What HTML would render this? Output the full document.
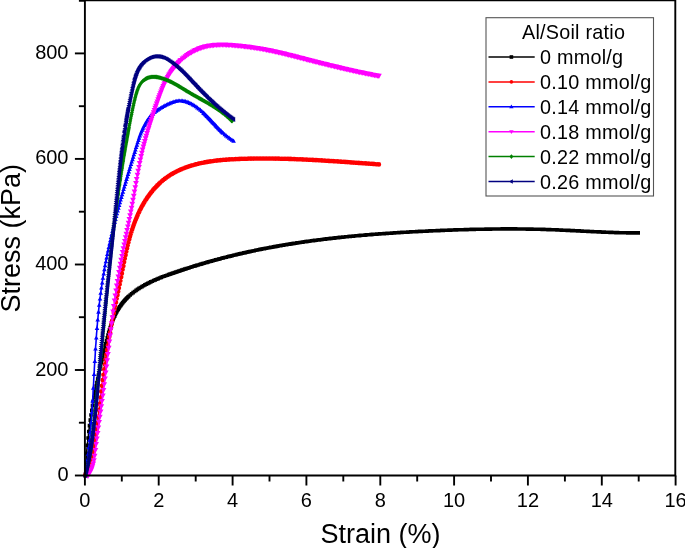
<!DOCTYPE html>
<html><head><meta charset="utf-8"><style>
html,body{margin:0;padding:0;background:#fff;}
svg{display:block;font-family:"Liberation Sans",sans-serif;will-change:transform;}
</style></head><body>
<svg width="685" height="548" viewBox="0 0 685 548">
<rect width="685" height="548" fill="#fff"/>
<g fill="none" stroke-width="3.6" stroke-linejoin="round" stroke-linecap="butt">
<polyline points="85.1,475.5 85.2,473.2 85.4,470.8 85.5,468.5 85.7,466.1 85.8,463.8 86.0,461.4 86.2,459.0 86.3,456.7 86.5,454.3 86.7,452.0 86.9,449.6 87.1,447.2 87.4,444.9 87.6,442.5 87.8,440.2 88.1,437.8 88.4,435.4 88.6,433.1 88.9,430.7 89.2,428.4 89.5,426.0 89.8,423.7 90.1,421.3 90.4,419.0 90.8,416.6 91.1,414.3 91.5,412.0 91.8,409.6 92.2,407.3 92.6,405.0 93.0,402.7 93.4,400.3 93.8,398.0 94.3,395.7 94.7,393.4 95.2,391.1 95.6,388.8 96.1,386.5 96.6,384.2 97.1,382.0 97.5,379.7 98.0,377.4 98.6,375.1 99.1,372.8 99.6,370.5 100.1,368.2 100.6,365.9 101.2,363.7 101.7,361.3 102.2,359.0 102.8,356.7 103.3,354.4 103.9,352.1 104.4,349.7 104.9,347.4 105.5,345.0 106.0,342.7 106.6,340.4 107.2,338.0 107.8,335.7 108.5,333.4 109.1,331.1 109.8,328.8 110.6,326.5 111.3,324.3 112.2,322.0 113.0,319.9 113.9,317.7 114.9,315.6 115.9,313.5 117.0,311.4 118.1,309.4 119.3,307.5 120.6,305.6 122.0,303.7 123.4,301.9 124.9,300.2 126.5,298.5 128.1,296.9 129.9,295.3 131.7,293.8 133.5,292.3 135.4,290.9 137.3,289.6 139.3,288.3 141.3,287.0 143.4,285.8 145.4,284.7 147.5,283.6 149.6,282.5 151.7,281.5 153.9,280.5 156.1,279.5 158.3,278.6 160.5,277.7 162.7,276.8 164.9,276.0 167.1,275.2 169.4,274.4 171.6,273.6 173.9,272.8 176.1,272.0 178.4,271.3 180.6,270.5 182.9,269.8 185.1,269.0 187.4,268.3 189.6,267.6 191.9,266.9 194.2,266.2 196.4,265.5 198.7,264.8 201.0,264.1 203.2,263.4 205.5,262.8 207.8,262.1 210.0,261.5 212.3,260.8 214.6,260.2 216.9,259.6 219.2,259.0 221.4,258.4 223.7,257.8 226.0,257.2 228.3,256.6 230.6,256.1 232.9,255.5 235.2,254.9 237.5,254.4 239.7,253.9 242.0,253.3 244.3,252.8 246.6,252.3 248.9,251.8 251.2,251.3 253.5,250.8 255.9,250.3 258.2,249.8 260.5,249.4 262.8,248.9 265.1,248.5 267.4,248.0 269.7,247.6 272.0,247.1 274.4,246.7 276.7,246.3 279.0,245.9 281.3,245.5 283.7,245.1 286.0,244.7 288.3,244.3 290.6,243.9 293.0,243.6 295.3,243.2 297.6,242.9 300.0,242.5 302.3,242.2 304.6,241.8 307.0,241.5 309.3,241.2 311.6,240.8 314.0,240.5 316.3,240.2 318.7,239.9 321.0,239.6 323.4,239.3 325.7,239.0 328.0,238.8 330.4,238.5 332.7,238.2 335.1,238.0 337.4,237.7 339.8,237.5 342.1,237.2 344.5,237.0 346.8,236.7 349.2,236.5 351.6,236.3 353.9,236.0 356.3,235.8 358.6,235.6 361.0,235.4 363.3,235.2 365.7,235.0 368.0,234.8 370.4,234.6 372.8,234.4 375.1,234.2 377.5,234.1 379.8,233.9 382.2,233.7 384.6,233.5 386.9,233.4 389.3,233.2 391.6,233.1 394.0,232.9 396.4,232.7 398.7,232.6 401.1,232.5 403.5,232.3 405.8,232.2 408.2,232.0 410.5,231.9 412.9,231.8 415.3,231.7 417.6,231.5 420.0,231.4 422.4,231.3 424.7,231.2 427.1,231.1 429.4,231.0 431.8,230.9 434.2,230.8 436.5,230.7 438.9,230.6 441.2,230.5 443.6,230.4 446.0,230.3 448.3,230.2 450.7,230.1 453.0,230.0 455.4,229.9 457.8,229.8 460.1,229.8 462.5,229.7 464.8,229.6 467.2,229.6 469.6,229.5 471.9,229.4 474.3,229.4 476.6,229.3 479.0,229.3 481.4,229.2 483.7,229.2 486.1,229.1 488.4,229.1 490.8,229.1 493.2,229.0 495.5,229.0 497.9,229.0 500.2,229.0 502.6,228.9 504.9,228.9 507.3,228.9 509.7,228.9 512.0,228.9 514.4,228.9 516.7,229.0 519.1,229.0 521.5,229.0 523.8,229.0 526.2,229.0 528.5,229.1 530.9,229.1 533.3,229.2 535.6,229.2 538.0,229.3 540.3,229.3 542.7,229.4 545.1,229.5 547.4,229.5 549.8,229.6 552.1,229.7 554.5,229.8 556.9,229.9 559.2,230.0 561.6,230.1 564.0,230.2 566.3,230.3 568.7,230.4 571.1,230.5 573.4,230.7 575.8,230.8 578.1,230.9 580.5,231.0 582.9,231.1 585.2,231.3 587.6,231.4 590.0,231.5 592.3,231.6 594.7,231.7 597.0,231.8 599.4,231.9 601.8,232.0 604.1,232.1 606.5,232.2 608.9,232.3 611.2,232.4 613.6,232.5 615.9,232.6 618.3,232.6 620.7,232.7 623.0,232.8 625.4,232.8 627.7,232.9 630.1,232.9 632.5,232.9 634.8,232.9 637.2,232.9 639.3,232.9" stroke="#000000" stroke-width="1.6"/>
<path d="M83.3,473.7h3.6v3.6h-3.6zM84.1,461.4h3.6v3.6h-3.6zM84.8,451.6h3.6v3.6h-3.6zM85.5,443.4h3.6v3.6h-3.6zM86.3,436.2h3.6v3.6h-3.6zM87.0,429.7h3.6v3.6h-3.6zM87.7,423.8h3.6v3.6h-3.6zM88.5,418.3h3.6v3.6h-3.6zM89.2,413.2h3.6v3.6h-3.6zM90.0,408.4h3.6v3.6h-3.6zM90.7,403.8h3.6v3.6h-3.6zM91.4,399.5h3.6v3.6h-3.6zM92.2,395.5h3.6v3.6h-3.6zM92.9,391.6h3.6v3.6h-3.6zM93.7,387.8h3.6v3.6h-3.6zM94.4,384.2h3.6v3.6h-3.6zM95.1,380.7h3.6v3.6h-3.6zM95.9,377.3h3.6v3.6h-3.6zM96.6,374.0h3.6v3.6h-3.6zM97.3,370.7h3.6v3.6h-3.6zM98.1,367.4h3.6v3.6h-3.6zM98.8,364.2h3.6v3.6h-3.6zM99.6,361.0h3.6v3.6h-3.6zM100.3,357.8h3.6v3.6h-3.6zM101.0,354.6h3.6v3.6h-3.6zM101.8,351.5h3.6v3.6h-3.6zM102.5,348.3h3.6v3.6h-3.6zM103.3,345.1h3.6v3.6h-3.6zM104.0,342.0h3.6v3.6h-3.6zM104.7,338.9h3.6v3.6h-3.6zM105.5,336.0h3.6v3.6h-3.6zM106.2,333.2h3.6v3.6h-3.6zM106.9,330.6h3.6v3.6h-3.6zM107.7,328.1h3.6v3.6h-3.6zM108.4,325.8h3.6v3.6h-3.6zM109.2,323.6h3.6v3.6h-3.6zM109.9,321.5h3.6v3.6h-3.6zM110.6,319.5h3.6v3.6h-3.6zM111.4,317.7h3.6v3.6h-3.6zM112.1,315.9h3.6v3.6h-3.6zM112.9,314.3h3.6v3.6h-3.6zM113.6,312.7h3.6v3.6h-3.6zM114.3,311.2h3.6v3.6h-3.6zM115.1,309.9h3.6v3.6h-3.6zM115.8,308.5h3.6v3.6h-3.6zM116.5,307.3h3.6v3.6h-3.6zM117.3,306.1h3.6v3.6h-3.6zM118.0,304.9h3.6v3.6h-3.6zM118.8,303.8h3.6v3.6h-3.6zM119.5,302.8h3.6v3.6h-3.6zM120.2,301.8h3.6v3.6h-3.6zM121.0,300.9h3.6v3.6h-3.6zM121.7,300.0h3.6v3.6h-3.6zM122.5,299.1h3.6v3.6h-3.6zM123.2,298.3h3.6v3.6h-3.6zM123.9,297.5h3.6v3.6h-3.6zM124.7,296.7h3.6v3.6h-3.6zM125.4,296.0h3.6v3.6h-3.6zM126.1,295.2h3.6v3.6h-3.6zM126.9,294.6h3.6v3.6h-3.6zM128.4,293.2h3.6v3.6h-3.6zM129.8,292.0h3.6v3.6h-3.6zM131.3,290.8h3.6v3.6h-3.6zM132.8,289.7h3.6v3.6h-3.6zM134.3,288.6h3.6v3.6h-3.6zM135.7,287.6h3.6v3.6h-3.6zM137.2,286.6h3.6v3.6h-3.6zM138.7,285.7h3.6v3.6h-3.6zM140.2,284.8h3.6v3.6h-3.6zM141.7,284.0h3.6v3.6h-3.6zM143.1,283.1h3.6v3.6h-3.6zM144.6,282.3h3.6v3.6h-3.6zM146.1,281.6h3.6v3.6h-3.6zM147.6,280.8h3.6v3.6h-3.6zM149.0,280.1h3.6v3.6h-3.6zM150.5,279.4h3.6v3.6h-3.6zM152.0,278.7h3.6v3.6h-3.6zM153.5,278.1h3.6v3.6h-3.6zM154.9,277.4h3.6v3.6h-3.6zM156.4,276.8h3.6v3.6h-3.6zM157.9,276.2h3.6v3.6h-3.6zM159.4,275.6h3.6v3.6h-3.6zM160.8,275.0h3.6v3.6h-3.6zM162.3,274.5h3.6v3.6h-3.6zM163.8,273.9h3.6v3.6h-3.6zM165.3,273.4h3.6v3.6h-3.6zM166.8,272.8h3.6v3.6h-3.6zM168.2,272.3h3.6v3.6h-3.6zM169.7,271.8h3.6v3.6h-3.6zM171.2,271.3h3.6v3.6h-3.6zM172.7,270.8h3.6v3.6h-3.6zM174.1,270.3h3.6v3.6h-3.6zM175.6,269.8h3.6v3.6h-3.6zM177.1,269.3h3.6v3.6h-3.6zM178.6,268.8h3.6v3.6h-3.6zM180.0,268.3h3.6v3.6h-3.6zM181.5,267.8h3.6v3.6h-3.6zM183.0,267.3h3.6v3.6h-3.6zM184.5,266.8h3.6v3.6h-3.6zM186.0,266.4h3.6v3.6h-3.6zM187.4,265.9h3.6v3.6h-3.6zM188.9,265.4h3.6v3.6h-3.6zM190.4,265.0h3.6v3.6h-3.6zM191.9,264.5h3.6v3.6h-3.6zM193.3,264.1h3.6v3.6h-3.6zM194.8,263.6h3.6v3.6h-3.6zM196.3,263.2h3.6v3.6h-3.6zM197.8,262.7h3.6v3.6h-3.6zM199.2,262.3h3.6v3.6h-3.6zM200.7,261.8h3.6v3.6h-3.6zM202.2,261.4h3.6v3.6h-3.6zM203.7,261.0h3.6v3.6h-3.6zM205.2,260.6h3.6v3.6h-3.6zM206.6,260.1h3.6v3.6h-3.6zM208.1,259.7h3.6v3.6h-3.6zM209.6,259.3h3.6v3.6h-3.6zM211.1,258.9h3.6v3.6h-3.6zM212.5,258.5h3.6v3.6h-3.6zM214.0,258.1h3.6v3.6h-3.6zM215.5,257.7h3.6v3.6h-3.6zM217.0,257.3h3.6v3.6h-3.6zM218.4,256.9h3.6v3.6h-3.6zM219.9,256.5h3.6v3.6h-3.6zM221.4,256.1h3.6v3.6h-3.6zM222.9,255.7h3.6v3.6h-3.6zM224.4,255.4h3.6v3.6h-3.6zM225.8,255.0h3.6v3.6h-3.6zM227.3,254.6h3.6v3.6h-3.6zM228.8,254.3h3.6v3.6h-3.6zM230.3,253.9h3.6v3.6h-3.6zM231.7,253.5h3.6v3.6h-3.6zM233.2,253.2h3.6v3.6h-3.6zM234.7,252.8h3.6v3.6h-3.6zM236.2,252.5h3.6v3.6h-3.6zM237.6,252.1h3.6v3.6h-3.6zM239.1,251.8h3.6v3.6h-3.6zM240.6,251.4h3.6v3.6h-3.6zM242.1,251.1h3.6v3.6h-3.6zM243.6,250.8h3.6v3.6h-3.6zM245.0,250.4h3.6v3.6h-3.6zM246.5,250.1h3.6v3.6h-3.6zM248.0,249.8h3.6v3.6h-3.6zM249.5,249.5h3.6v3.6h-3.6zM250.9,249.2h3.6v3.6h-3.6zM252.4,248.9h3.6v3.6h-3.6zM253.9,248.5h3.6v3.6h-3.6zM255.4,248.2h3.6v3.6h-3.6zM256.8,247.9h3.6v3.6h-3.6zM258.3,247.6h3.6v3.6h-3.6zM259.8,247.3h3.6v3.6h-3.6zM261.3,247.0h3.6v3.6h-3.6zM262.7,246.8h3.6v3.6h-3.6zM264.2,246.5h3.6v3.6h-3.6zM265.7,246.2h3.6v3.6h-3.6zM267.2,245.9h3.6v3.6h-3.6zM268.7,245.6h3.6v3.6h-3.6zM270.1,245.4h3.6v3.6h-3.6zM271.6,245.1h3.6v3.6h-3.6zM273.1,244.8h3.6v3.6h-3.6zM274.6,244.6h3.6v3.6h-3.6zM276.0,244.3h3.6v3.6h-3.6zM277.5,244.0h3.6v3.6h-3.6zM279.0,243.8h3.6v3.6h-3.6zM280.5,243.5h3.6v3.6h-3.6zM281.9,243.3h3.6v3.6h-3.6zM283.4,243.0h3.6v3.6h-3.6zM284.9,242.8h3.6v3.6h-3.6zM286.4,242.5h3.6v3.6h-3.6zM287.9,242.3h3.6v3.6h-3.6zM289.3,242.1h3.6v3.6h-3.6zM290.8,241.8h3.6v3.6h-3.6zM292.3,241.6h3.6v3.6h-3.6zM293.8,241.4h3.6v3.6h-3.6zM295.2,241.1h3.6v3.6h-3.6zM296.7,240.9h3.6v3.6h-3.6zM298.2,240.7h3.6v3.6h-3.6zM299.7,240.5h3.6v3.6h-3.6zM301.1,240.3h3.6v3.6h-3.6zM302.6,240.0h3.6v3.6h-3.6zM304.1,239.8h3.6v3.6h-3.6zM305.6,239.6h3.6v3.6h-3.6zM307.1,239.4h3.6v3.6h-3.6zM308.5,239.2h3.6v3.6h-3.6zM310.0,239.0h3.6v3.6h-3.6zM311.5,238.8h3.6v3.6h-3.6zM313.0,238.6h3.6v3.6h-3.6zM314.4,238.4h3.6v3.6h-3.6zM315.9,238.2h3.6v3.6h-3.6zM317.4,238.1h3.6v3.6h-3.6zM318.9,237.9h3.6v3.6h-3.6zM320.3,237.7h3.6v3.6h-3.6zM321.8,237.5h3.6v3.6h-3.6zM323.3,237.3h3.6v3.6h-3.6zM324.8,237.1h3.6v3.6h-3.6zM326.3,237.0h3.6v3.6h-3.6zM327.7,236.8h3.6v3.6h-3.6zM329.2,236.6h3.6v3.6h-3.6zM330.7,236.5h3.6v3.6h-3.6zM332.2,236.3h3.6v3.6h-3.6zM333.6,236.1h3.6v3.6h-3.6zM335.1,236.0h3.6v3.6h-3.6zM336.6,235.8h3.6v3.6h-3.6zM338.1,235.6h3.6v3.6h-3.6zM339.5,235.5h3.6v3.6h-3.6zM341.0,235.3h3.6v3.6h-3.6zM342.5,235.2h3.6v3.6h-3.6zM344.0,235.0h3.6v3.6h-3.6zM345.4,234.9h3.6v3.6h-3.6zM346.9,234.7h3.6v3.6h-3.6zM348.4,234.6h3.6v3.6h-3.6zM349.9,234.5h3.6v3.6h-3.6zM351.4,234.3h3.6v3.6h-3.6zM352.8,234.2h3.6v3.6h-3.6zM354.3,234.0h3.6v3.6h-3.6zM355.8,233.9h3.6v3.6h-3.6zM357.3,233.8h3.6v3.6h-3.6zM358.7,233.6h3.6v3.6h-3.6zM360.2,233.5h3.6v3.6h-3.6zM361.7,233.4h3.6v3.6h-3.6zM363.2,233.3h3.6v3.6h-3.6zM364.6,233.1h3.6v3.6h-3.6zM366.1,233.0h3.6v3.6h-3.6zM367.6,232.9h3.6v3.6h-3.6zM369.1,232.8h3.6v3.6h-3.6zM370.6,232.6h3.6v3.6h-3.6zM372.0,232.5h3.6v3.6h-3.6zM373.5,232.4h3.6v3.6h-3.6zM375.0,232.3h3.6v3.6h-3.6zM376.5,232.2h3.6v3.6h-3.6zM377.9,232.1h3.6v3.6h-3.6zM379.4,232.0h3.6v3.6h-3.6zM380.9,231.9h3.6v3.6h-3.6zM382.4,231.8h3.6v3.6h-3.6zM383.8,231.7h3.6v3.6h-3.6zM385.3,231.6h3.6v3.6h-3.6zM386.8,231.5h3.6v3.6h-3.6zM388.3,231.4h3.6v3.6h-3.6zM389.8,231.3h3.6v3.6h-3.6zM391.2,231.2h3.6v3.6h-3.6zM392.7,231.1h3.6v3.6h-3.6zM394.2,231.0h3.6v3.6h-3.6zM395.7,230.9h3.6v3.6h-3.6zM397.1,230.8h3.6v3.6h-3.6zM398.6,230.7h3.6v3.6h-3.6zM400.1,230.6h3.6v3.6h-3.6zM401.6,230.5h3.6v3.6h-3.6zM403.0,230.4h3.6v3.6h-3.6zM404.5,230.4h3.6v3.6h-3.6zM406.0,230.3h3.6v3.6h-3.6zM407.5,230.2h3.6v3.6h-3.6zM409.0,230.1h3.6v3.6h-3.6zM410.4,230.0h3.6v3.6h-3.6zM411.9,229.9h3.6v3.6h-3.6zM413.4,229.9h3.6v3.6h-3.6zM414.9,229.8h3.6v3.6h-3.6zM416.3,229.7h3.6v3.6h-3.6zM417.8,229.6h3.6v3.6h-3.6zM419.3,229.6h3.6v3.6h-3.6zM420.8,229.5h3.6v3.6h-3.6zM422.2,229.4h3.6v3.6h-3.6zM423.7,229.4h3.6v3.6h-3.6zM425.2,229.3h3.6v3.6h-3.6zM426.7,229.2h3.6v3.6h-3.6zM428.2,229.1h3.6v3.6h-3.6zM429.6,229.1h3.6v3.6h-3.6zM431.1,229.0h3.6v3.6h-3.6zM432.6,228.9h3.6v3.6h-3.6zM434.1,228.9h3.6v3.6h-3.6zM435.5,228.8h3.6v3.6h-3.6zM437.0,228.8h3.6v3.6h-3.6zM438.5,228.7h3.6v3.6h-3.6zM440.0,228.6h3.6v3.6h-3.6zM441.4,228.6h3.6v3.6h-3.6zM442.9,228.5h3.6v3.6h-3.6zM444.4,228.5h3.6v3.6h-3.6zM445.9,228.4h3.6v3.6h-3.6zM447.3,228.3h3.6v3.6h-3.6zM448.8,228.3h3.6v3.6h-3.6zM450.3,228.2h3.6v3.6h-3.6zM451.8,228.2h3.6v3.6h-3.6zM453.3,228.1h3.6v3.6h-3.6zM454.7,228.1h3.6v3.6h-3.6zM456.2,228.0h3.6v3.6h-3.6zM457.7,228.0h3.6v3.6h-3.6zM459.2,227.9h3.6v3.6h-3.6zM460.6,227.9h3.6v3.6h-3.6zM462.1,227.9h3.6v3.6h-3.6zM463.6,227.8h3.6v3.6h-3.6zM465.1,227.8h3.6v3.6h-3.6zM466.5,227.7h3.6v3.6h-3.6zM468.0,227.7h3.6v3.6h-3.6zM469.5,227.6h3.6v3.6h-3.6zM471.0,227.6h3.6v3.6h-3.6zM472.5,227.6h3.6v3.6h-3.6zM473.9,227.5h3.6v3.6h-3.6zM475.4,227.5h3.6v3.6h-3.6zM476.9,227.5h3.6v3.6h-3.6zM478.4,227.4h3.6v3.6h-3.6zM479.8,227.4h3.6v3.6h-3.6zM481.3,227.4h3.6v3.6h-3.6zM482.8,227.4h3.6v3.6h-3.6zM484.3,227.3h3.6v3.6h-3.6zM485.7,227.3h3.6v3.6h-3.6zM487.2,227.3h3.6v3.6h-3.6zM488.7,227.3h3.6v3.6h-3.6zM490.2,227.2h3.6v3.6h-3.6zM491.7,227.2h3.6v3.6h-3.6zM493.1,227.2h3.6v3.6h-3.6zM494.6,227.2h3.6v3.6h-3.6zM496.1,227.2h3.6v3.6h-3.6zM497.6,227.2h3.6v3.6h-3.6zM499.0,227.2h3.6v3.6h-3.6zM500.5,227.1h3.6v3.6h-3.6zM502.0,227.1h3.6v3.6h-3.6zM503.5,227.1h3.6v3.6h-3.6zM504.9,227.1h3.6v3.6h-3.6zM506.4,227.1h3.6v3.6h-3.6zM507.9,227.1h3.6v3.6h-3.6zM509.4,227.1h3.6v3.6h-3.6zM510.9,227.1h3.6v3.6h-3.6zM512.3,227.1h3.6v3.6h-3.6zM513.8,227.1h3.6v3.6h-3.6zM515.3,227.2h3.6v3.6h-3.6zM516.8,227.2h3.6v3.6h-3.6zM518.2,227.2h3.6v3.6h-3.6zM519.7,227.2h3.6v3.6h-3.6zM521.2,227.2h3.6v3.6h-3.6zM522.7,227.2h3.6v3.6h-3.6zM524.1,227.2h3.6v3.6h-3.6zM525.6,227.3h3.6v3.6h-3.6zM527.1,227.3h3.6v3.6h-3.6zM528.6,227.3h3.6v3.6h-3.6zM530.0,227.3h3.6v3.6h-3.6zM531.5,227.4h3.6v3.6h-3.6zM533.0,227.4h3.6v3.6h-3.6zM534.5,227.4h3.6v3.6h-3.6zM536.0,227.5h3.6v3.6h-3.6zM537.4,227.5h3.6v3.6h-3.6zM538.9,227.5h3.6v3.6h-3.6zM540.4,227.6h3.6v3.6h-3.6zM541.9,227.6h3.6v3.6h-3.6zM543.3,227.7h3.6v3.6h-3.6zM544.8,227.7h3.6v3.6h-3.6zM546.3,227.8h3.6v3.6h-3.6zM547.8,227.8h3.6v3.6h-3.6zM549.2,227.9h3.6v3.6h-3.6zM550.7,227.9h3.6v3.6h-3.6zM552.2,228.0h3.6v3.6h-3.6zM553.7,228.0h3.6v3.6h-3.6zM555.2,228.1h3.6v3.6h-3.6zM556.6,228.2h3.6v3.6h-3.6zM558.1,228.2h3.6v3.6h-3.6zM559.6,228.3h3.6v3.6h-3.6zM561.1,228.4h3.6v3.6h-3.6zM562.5,228.4h3.6v3.6h-3.6zM564.0,228.5h3.6v3.6h-3.6zM565.5,228.6h3.6v3.6h-3.6zM567.0,228.6h3.6v3.6h-3.6zM568.4,228.7h3.6v3.6h-3.6zM569.9,228.8h3.6v3.6h-3.6zM571.4,228.8h3.6v3.6h-3.6zM572.9,228.9h3.6v3.6h-3.6zM574.4,229.0h3.6v3.6h-3.6zM575.8,229.1h3.6v3.6h-3.6zM577.3,229.1h3.6v3.6h-3.6zM578.8,229.2h3.6v3.6h-3.6zM580.3,229.3h3.6v3.6h-3.6zM581.7,229.4h3.6v3.6h-3.6zM583.2,229.4h3.6v3.6h-3.6zM584.7,229.5h3.6v3.6h-3.6zM586.2,229.6h3.6v3.6h-3.6zM587.6,229.7h3.6v3.6h-3.6zM589.1,229.7h3.6v3.6h-3.6zM590.6,229.8h3.6v3.6h-3.6zM592.1,229.9h3.6v3.6h-3.6zM593.6,229.9h3.6v3.6h-3.6zM595.0,230.0h3.6v3.6h-3.6zM596.5,230.1h3.6v3.6h-3.6zM598.0,230.1h3.6v3.6h-3.6zM599.5,230.2h3.6v3.6h-3.6zM600.9,230.3h3.6v3.6h-3.6zM602.4,230.3h3.6v3.6h-3.6zM603.9,230.4h3.6v3.6h-3.6zM605.4,230.5h3.6v3.6h-3.6zM606.8,230.5h3.6v3.6h-3.6zM608.3,230.6h3.6v3.6h-3.6zM609.8,230.6h3.6v3.6h-3.6zM611.3,230.7h3.6v3.6h-3.6zM612.8,230.7h3.6v3.6h-3.6zM614.2,230.8h3.6v3.6h-3.6zM615.7,230.8h3.6v3.6h-3.6zM617.2,230.9h3.6v3.6h-3.6zM618.7,230.9h3.6v3.6h-3.6zM620.1,230.9h3.6v3.6h-3.6zM621.6,231.0h3.6v3.6h-3.6zM623.1,231.0h3.6v3.6h-3.6zM624.6,231.0h3.6v3.6h-3.6zM626.0,231.1h3.6v3.6h-3.6zM627.5,231.1h3.6v3.6h-3.6zM629.0,231.1h3.6v3.6h-3.6zM630.5,231.1h3.6v3.6h-3.6zM631.9,231.1h3.6v3.6h-3.6zM633.4,231.1h3.6v3.6h-3.6zM634.9,231.1h3.6v3.6h-3.6zM636.4,231.1h3.6v3.6h-3.6z" fill="#000000"/>
<polyline points="85.0,475.5 85.7,473.9 86.4,472.2 87.1,470.6 87.7,468.9 88.4,467.2 89.0,465.6 89.5,463.9 90.1,462.2 90.6,460.5 91.1,458.8 91.5,457.1 92.0,455.4 92.4,453.7 92.8,452.0 93.2,450.3 93.6,448.5 94.0,446.8 94.3,445.1 94.6,443.4 94.9,441.6 95.2,439.9 95.5,438.1 95.8,436.4 96.0,434.6 96.3,432.9 96.5,431.1 96.8,429.4 97.0,427.6 97.2,425.9 97.4,424.1 97.6,422.3 97.8,420.6 98.0,418.8 98.2,417.1 98.4,415.3 98.6,413.5 98.8,411.8 99.0,410.0 99.2,408.3 99.4,406.5 99.6,404.7 99.8,403.0 100.0,401.2 100.2,399.5 100.5,397.7 100.7,395.9 100.9,394.2 101.1,392.4 101.3,390.7 101.5,388.9 101.8,387.1 102.0,385.4 102.2,383.6 102.5,381.9 102.7,380.1 102.9,378.4 103.2,376.6 103.4,374.9 103.7,373.1 103.9,371.4 104.1,369.6 104.4,367.8 104.7,366.1 104.9,364.3 105.2,362.6 105.4,360.8 105.7,359.1 106.0,357.3 106.2,355.6 106.5,353.8 106.8,352.1 107.1,350.3 107.3,348.6 107.6,346.9 107.9,345.1 108.2,343.4 108.5,341.6 108.8,339.9 109.1,338.1 109.4,336.4 109.7,334.6 110.0,332.9 110.3,331.1 110.6,329.4 111.0,327.7 111.3,325.9 111.6,324.2 111.9,322.4 112.3,320.7 112.6,319.0 113.0,317.2 113.3,315.5 113.6,313.7 114.0,312.0 114.3,310.3 114.7,308.5 115.0,306.8 115.4,305.1 115.8,303.3 116.1,301.6 116.5,299.8 116.8,298.1 117.2,296.4 117.5,294.6 117.9,292.9 118.3,291.2 118.6,289.5 119.0,287.7 119.3,286.0 119.7,284.3 120.0,282.5 120.4,280.8 120.7,279.1 121.1,277.3 121.4,275.6 121.8,273.9 122.1,272.2 122.5,270.4 122.8,268.7 123.1,267.0 123.5,265.3 123.8,263.5 124.2,261.8 124.5,260.1 124.9,258.4 125.2,256.6 125.6,254.9 125.9,253.2 126.3,251.5 126.7,249.8 127.1,248.0 127.5,246.3 127.9,244.6 128.3,242.9 128.8,241.2 129.2,239.5 129.7,237.8 130.2,236.0 130.7,234.3 131.2,232.6 131.7,230.9 132.3,229.2 132.8,227.5 133.4,225.8 134.0,224.1 134.6,222.5 135.3,220.8 136.0,219.1 136.6,217.5 137.4,215.8 138.1,214.2 138.8,212.5 139.6,210.9 140.4,209.3 141.3,207.7 142.1,206.1 143.0,204.6 143.9,203.0 144.8,201.5 145.8,199.9 146.8,198.4 147.8,196.9 148.9,195.5 149.9,194.0 151.0,192.6 152.1,191.2 153.3,189.8 154.5,188.5 155.6,187.2 156.9,185.9 158.1,184.7 159.4,183.4 160.7,182.3 162.0,181.1 163.3,180.0 164.7,178.9 166.0,177.9 167.4,176.9 168.9,175.9 170.3,175.0 171.8,174.1 173.2,173.3 174.7,172.4 176.2,171.6 177.8,170.9 179.3,170.1 180.9,169.4 182.5,168.8 184.1,168.1 185.7,167.5 187.3,166.9 188.9,166.4 190.6,165.8 192.3,165.3 193.9,164.9 195.6,164.4 197.3,164.0 199.0,163.6 200.8,163.2 202.5,162.8 204.2,162.5 206.0,162.1 207.7,161.8 209.5,161.5 211.3,161.3 213.0,161.0 214.8,160.8 216.6,160.6 218.4,160.4 220.2,160.2 222.0,160.0 223.8,159.8 225.6,159.7 227.4,159.6 229.2,159.4 231.0,159.3 232.8,159.2 234.7,159.1 236.5,159.0 238.3,159.0 240.1,158.9 241.9,158.8 243.7,158.8 245.5,158.7 247.3,158.7 249.1,158.6 250.9,158.6 252.7,158.6 254.5,158.5 256.2,158.5 258.0,158.5 259.8,158.5 261.6,158.5 263.4,158.5 265.1,158.5 266.9,158.5 268.7,158.5 270.4,158.5 272.2,158.5 274.0,158.6 275.7,158.6 277.5,158.6 279.2,158.6 281.0,158.7 282.7,158.7 284.5,158.8 286.3,158.8 288.0,158.9 289.8,158.9 291.5,159.0 293.3,159.0 295.0,159.1 296.8,159.2 298.5,159.2 300.2,159.3 302.0,159.4 303.7,159.5 305.5,159.6 307.2,159.6 309.0,159.7 310.7,159.8 312.5,159.9 314.2,160.0 316.0,160.1 317.7,160.2 319.5,160.3 321.2,160.4 323.0,160.5 324.7,160.6 326.5,160.7 328.2,160.8 330.0,160.9 331.7,161.1 333.5,161.2 335.2,161.3 337.0,161.4 338.8,161.5 340.5,161.6 342.3,161.8 344.1,161.9 345.8,162.0 347.6,162.1 349.4,162.3 351.1,162.4 352.9,162.5 354.7,162.6 356.5,162.8 358.3,162.9 360.1,163.0 361.8,163.1 363.6,163.3 365.4,163.4 367.2,163.5 369.0,163.7 370.8,163.8 372.6,163.9 374.4,164.0 376.3,164.2 378.1,164.3 379.7,164.4" stroke="#ff0000" stroke-width="1.6"/>
<path d="M82.7,475.5a2.30,2.30 0 1,0 4.6,0a2.30,2.30 0 1,0 -4.6,0M83.4,473.9a2.30,2.30 0 1,0 4.6,0a2.30,2.30 0 1,0 -4.6,0M84.1,472.2a2.30,2.30 0 1,0 4.6,0a2.30,2.30 0 1,0 -4.6,0M84.9,470.3a2.30,2.30 0 1,0 4.6,0a2.30,2.30 0 1,0 -4.6,0M85.6,468.4a2.30,2.30 0 1,0 4.6,0a2.30,2.30 0 1,0 -4.6,0M86.4,466.4a2.30,2.30 0 1,0 4.6,0a2.30,2.30 0 1,0 -4.6,0M87.1,464.3a2.30,2.30 0 1,0 4.6,0a2.30,2.30 0 1,0 -4.6,0M87.8,462.0a2.30,2.30 0 1,0 4.6,0a2.30,2.30 0 1,0 -4.6,0M88.6,459.5a2.30,2.30 0 1,0 4.6,0a2.30,2.30 0 1,0 -4.6,0M89.3,456.9a2.30,2.30 0 1,0 4.6,0a2.30,2.30 0 1,0 -4.6,0M90.1,454.0a2.30,2.30 0 1,0 4.6,0a2.30,2.30 0 1,0 -4.6,0M90.8,450.9a2.30,2.30 0 1,0 4.6,0a2.30,2.30 0 1,0 -4.6,0M91.5,447.4a2.30,2.30 0 1,0 4.6,0a2.30,2.30 0 1,0 -4.6,0M92.3,443.6a2.30,2.30 0 1,0 4.6,0a2.30,2.30 0 1,0 -4.6,0M93.0,439.3a2.30,2.30 0 1,0 4.6,0a2.30,2.30 0 1,0 -4.6,0M93.7,434.5a2.30,2.30 0 1,0 4.6,0a2.30,2.30 0 1,0 -4.6,0M94.5,429.1a2.30,2.30 0 1,0 4.6,0a2.30,2.30 0 1,0 -4.6,0M95.2,423.1a2.30,2.30 0 1,0 4.6,0a2.30,2.30 0 1,0 -4.6,0M96.0,416.7a2.30,2.30 0 1,0 4.6,0a2.30,2.30 0 1,0 -4.6,0M96.7,410.1a2.30,2.30 0 1,0 4.6,0a2.30,2.30 0 1,0 -4.6,0M97.4,403.7a2.30,2.30 0 1,0 4.6,0a2.30,2.30 0 1,0 -4.6,0M98.2,397.5a2.30,2.30 0 1,0 4.6,0a2.30,2.30 0 1,0 -4.6,0M98.9,391.5a2.30,2.30 0 1,0 4.6,0a2.30,2.30 0 1,0 -4.6,0M99.7,385.7a2.30,2.30 0 1,0 4.6,0a2.30,2.30 0 1,0 -4.6,0M100.4,380.1a2.30,2.30 0 1,0 4.6,0a2.30,2.30 0 1,0 -4.6,0M101.1,374.7a2.30,2.30 0 1,0 4.6,0a2.30,2.30 0 1,0 -4.6,0M101.9,369.4a2.30,2.30 0 1,0 4.6,0a2.30,2.30 0 1,0 -4.6,0M102.6,364.4a2.30,2.30 0 1,0 4.6,0a2.30,2.30 0 1,0 -4.6,0M103.3,359.4a2.30,2.30 0 1,0 4.6,0a2.30,2.30 0 1,0 -4.6,0M104.1,354.6a2.30,2.30 0 1,0 4.6,0a2.30,2.30 0 1,0 -4.6,0M104.8,350.0a2.30,2.30 0 1,0 4.6,0a2.30,2.30 0 1,0 -4.6,0M105.6,345.4a2.30,2.30 0 1,0 4.6,0a2.30,2.30 0 1,0 -4.6,0M106.3,341.0a2.30,2.30 0 1,0 4.6,0a2.30,2.30 0 1,0 -4.6,0M107.0,336.7a2.30,2.30 0 1,0 4.6,0a2.30,2.30 0 1,0 -4.6,0M107.8,332.6a2.30,2.30 0 1,0 4.6,0a2.30,2.30 0 1,0 -4.6,0M108.5,328.5a2.30,2.30 0 1,0 4.6,0a2.30,2.30 0 1,0 -4.6,0M109.3,324.5a2.30,2.30 0 1,0 4.6,0a2.30,2.30 0 1,0 -4.6,0M110.0,320.6a2.30,2.30 0 1,0 4.6,0a2.30,2.30 0 1,0 -4.6,0M110.7,316.8a2.30,2.30 0 1,0 4.6,0a2.30,2.30 0 1,0 -4.6,0M111.5,313.1a2.30,2.30 0 1,0 4.6,0a2.30,2.30 0 1,0 -4.6,0M112.2,309.4a2.30,2.30 0 1,0 4.6,0a2.30,2.30 0 1,0 -4.6,0M112.9,305.8a2.30,2.30 0 1,0 4.6,0a2.30,2.30 0 1,0 -4.6,0M113.7,302.2a2.30,2.30 0 1,0 4.6,0a2.30,2.30 0 1,0 -4.6,0M114.4,298.6a2.30,2.30 0 1,0 4.6,0a2.30,2.30 0 1,0 -4.6,0M115.2,295.1a2.30,2.30 0 1,0 4.6,0a2.30,2.30 0 1,0 -4.6,0M115.9,291.5a2.30,2.30 0 1,0 4.6,0a2.30,2.30 0 1,0 -4.6,0M116.6,287.9a2.30,2.30 0 1,0 4.6,0a2.30,2.30 0 1,0 -4.6,0M117.4,284.3a2.30,2.30 0 1,0 4.6,0a2.30,2.30 0 1,0 -4.6,0M118.1,280.7a2.30,2.30 0 1,0 4.6,0a2.30,2.30 0 1,0 -4.6,0M118.9,277.1a2.30,2.30 0 1,0 4.6,0a2.30,2.30 0 1,0 -4.6,0M119.6,273.4a2.30,2.30 0 1,0 4.6,0a2.30,2.30 0 1,0 -4.6,0M120.3,269.6a2.30,2.30 0 1,0 4.6,0a2.30,2.30 0 1,0 -4.6,0M121.1,265.9a2.30,2.30 0 1,0 4.6,0a2.30,2.30 0 1,0 -4.6,0M121.8,262.1a2.30,2.30 0 1,0 4.6,0a2.30,2.30 0 1,0 -4.6,0M122.5,258.5a2.30,2.30 0 1,0 4.6,0a2.30,2.30 0 1,0 -4.6,0M123.3,254.9a2.30,2.30 0 1,0 4.6,0a2.30,2.30 0 1,0 -4.6,0M124.0,251.5a2.30,2.30 0 1,0 4.6,0a2.30,2.30 0 1,0 -4.6,0M124.8,248.2a2.30,2.30 0 1,0 4.6,0a2.30,2.30 0 1,0 -4.6,0M125.5,245.1a2.30,2.30 0 1,0 4.6,0a2.30,2.30 0 1,0 -4.6,0M126.2,242.2a2.30,2.30 0 1,0 4.6,0a2.30,2.30 0 1,0 -4.6,0M127.0,239.3a2.30,2.30 0 1,0 4.6,0a2.30,2.30 0 1,0 -4.6,0M127.7,236.6a2.30,2.30 0 1,0 4.6,0a2.30,2.30 0 1,0 -4.6,0M128.4,234.1a2.30,2.30 0 1,0 4.6,0a2.30,2.30 0 1,0 -4.6,0M129.2,231.7a2.30,2.30 0 1,0 4.6,0a2.30,2.30 0 1,0 -4.6,0M129.9,229.4a2.30,2.30 0 1,0 4.6,0a2.30,2.30 0 1,0 -4.6,0M130.7,227.1a2.30,2.30 0 1,0 4.6,0a2.30,2.30 0 1,0 -4.6,0M131.4,225.0a2.30,2.30 0 1,0 4.6,0a2.30,2.30 0 1,0 -4.6,0M132.1,223.0a2.30,2.30 0 1,0 4.6,0a2.30,2.30 0 1,0 -4.6,0M132.9,221.1a2.30,2.30 0 1,0 4.6,0a2.30,2.30 0 1,0 -4.6,0M133.6,219.2a2.30,2.30 0 1,0 4.6,0a2.30,2.30 0 1,0 -4.6,0M134.4,217.4a2.30,2.30 0 1,0 4.6,0a2.30,2.30 0 1,0 -4.6,0M135.1,215.7a2.30,2.30 0 1,0 4.6,0a2.30,2.30 0 1,0 -4.6,0M135.8,214.1a2.30,2.30 0 1,0 4.6,0a2.30,2.30 0 1,0 -4.6,0M136.6,212.5a2.30,2.30 0 1,0 4.6,0a2.30,2.30 0 1,0 -4.6,0M137.3,210.9a2.30,2.30 0 1,0 4.6,0a2.30,2.30 0 1,0 -4.6,0M138.0,209.5a2.30,2.30 0 1,0 4.6,0a2.30,2.30 0 1,0 -4.6,0M138.8,208.0a2.30,2.30 0 1,0 4.6,0a2.30,2.30 0 1,0 -4.6,0M139.5,206.6a2.30,2.30 0 1,0 4.6,0a2.30,2.30 0 1,0 -4.6,0M140.3,205.3a2.30,2.30 0 1,0 4.6,0a2.30,2.30 0 1,0 -4.6,0M141.0,204.0a2.30,2.30 0 1,0 4.6,0a2.30,2.30 0 1,0 -4.6,0M141.7,202.8a2.30,2.30 0 1,0 4.6,0a2.30,2.30 0 1,0 -4.6,0M142.5,201.6a2.30,2.30 0 1,0 4.6,0a2.30,2.30 0 1,0 -4.6,0M143.2,200.4a2.30,2.30 0 1,0 4.6,0a2.30,2.30 0 1,0 -4.6,0M144.0,199.2a2.30,2.30 0 1,0 4.6,0a2.30,2.30 0 1,0 -4.6,0M144.7,198.1a2.30,2.30 0 1,0 4.6,0a2.30,2.30 0 1,0 -4.6,0M145.4,197.1a2.30,2.30 0 1,0 4.6,0a2.30,2.30 0 1,0 -4.6,0M146.2,196.0a2.30,2.30 0 1,0 4.6,0a2.30,2.30 0 1,0 -4.6,0M146.9,195.0a2.30,2.30 0 1,0 4.6,0a2.30,2.30 0 1,0 -4.6,0M147.6,194.0a2.30,2.30 0 1,0 4.6,0a2.30,2.30 0 1,0 -4.6,0M148.4,193.0a2.30,2.30 0 1,0 4.6,0a2.30,2.30 0 1,0 -4.6,0M149.1,192.1a2.30,2.30 0 1,0 4.6,0a2.30,2.30 0 1,0 -4.6,0M149.9,191.2a2.30,2.30 0 1,0 4.6,0a2.30,2.30 0 1,0 -4.6,0M150.6,190.3a2.30,2.30 0 1,0 4.6,0a2.30,2.30 0 1,0 -4.6,0M151.3,189.4a2.30,2.30 0 1,0 4.6,0a2.30,2.30 0 1,0 -4.6,0M152.1,188.6a2.30,2.30 0 1,0 4.6,0a2.30,2.30 0 1,0 -4.6,0M152.8,187.8a2.30,2.30 0 1,0 4.6,0a2.30,2.30 0 1,0 -4.6,0M153.6,187.0a2.30,2.30 0 1,0 4.6,0a2.30,2.30 0 1,0 -4.6,0M154.3,186.2a2.30,2.30 0 1,0 4.6,0a2.30,2.30 0 1,0 -4.6,0M155.0,185.4a2.30,2.30 0 1,0 4.6,0a2.30,2.30 0 1,0 -4.6,0M155.8,184.7a2.30,2.30 0 1,0 4.6,0a2.30,2.30 0 1,0 -4.6,0M156.5,184.0a2.30,2.30 0 1,0 4.6,0a2.30,2.30 0 1,0 -4.6,0M157.2,183.3a2.30,2.30 0 1,0 4.6,0a2.30,2.30 0 1,0 -4.6,0M158.0,182.6a2.30,2.30 0 1,0 4.6,0a2.30,2.30 0 1,0 -4.6,0M159.5,181.3a2.30,2.30 0 1,0 4.6,0a2.30,2.30 0 1,0 -4.6,0M160.9,180.1a2.30,2.30 0 1,0 4.6,0a2.30,2.30 0 1,0 -4.6,0M162.4,178.9a2.30,2.30 0 1,0 4.6,0a2.30,2.30 0 1,0 -4.6,0M163.9,177.8a2.30,2.30 0 1,0 4.6,0a2.30,2.30 0 1,0 -4.6,0M165.4,176.7a2.30,2.30 0 1,0 4.6,0a2.30,2.30 0 1,0 -4.6,0M166.8,175.7a2.30,2.30 0 1,0 4.6,0a2.30,2.30 0 1,0 -4.6,0M168.3,174.8a2.30,2.30 0 1,0 4.6,0a2.30,2.30 0 1,0 -4.6,0M169.8,173.9a2.30,2.30 0 1,0 4.6,0a2.30,2.30 0 1,0 -4.6,0M171.3,173.1a2.30,2.30 0 1,0 4.6,0a2.30,2.30 0 1,0 -4.6,0M172.8,172.3a2.30,2.30 0 1,0 4.6,0a2.30,2.30 0 1,0 -4.6,0M174.2,171.5a2.30,2.30 0 1,0 4.6,0a2.30,2.30 0 1,0 -4.6,0M175.7,170.8a2.30,2.30 0 1,0 4.6,0a2.30,2.30 0 1,0 -4.6,0M177.2,170.1a2.30,2.30 0 1,0 4.6,0a2.30,2.30 0 1,0 -4.6,0M178.7,169.4a2.30,2.30 0 1,0 4.6,0a2.30,2.30 0 1,0 -4.6,0M180.1,168.8a2.30,2.30 0 1,0 4.6,0a2.30,2.30 0 1,0 -4.6,0M181.6,168.2a2.30,2.30 0 1,0 4.6,0a2.30,2.30 0 1,0 -4.6,0M183.1,167.6a2.30,2.30 0 1,0 4.6,0a2.30,2.30 0 1,0 -4.6,0M184.6,167.1a2.30,2.30 0 1,0 4.6,0a2.30,2.30 0 1,0 -4.6,0M186.0,166.6a2.30,2.30 0 1,0 4.6,0a2.30,2.30 0 1,0 -4.6,0M187.5,166.1a2.30,2.30 0 1,0 4.6,0a2.30,2.30 0 1,0 -4.6,0M189.0,165.6a2.30,2.30 0 1,0 4.6,0a2.30,2.30 0 1,0 -4.6,0M190.5,165.2a2.30,2.30 0 1,0 4.6,0a2.30,2.30 0 1,0 -4.6,0M192.0,164.8a2.30,2.30 0 1,0 4.6,0a2.30,2.30 0 1,0 -4.6,0M193.4,164.4a2.30,2.30 0 1,0 4.6,0a2.30,2.30 0 1,0 -4.6,0M194.9,164.0a2.30,2.30 0 1,0 4.6,0a2.30,2.30 0 1,0 -4.6,0M196.4,163.6a2.30,2.30 0 1,0 4.6,0a2.30,2.30 0 1,0 -4.6,0M197.9,163.3a2.30,2.30 0 1,0 4.6,0a2.30,2.30 0 1,0 -4.6,0M199.3,163.0a2.30,2.30 0 1,0 4.6,0a2.30,2.30 0 1,0 -4.6,0M200.8,162.7a2.30,2.30 0 1,0 4.6,0a2.30,2.30 0 1,0 -4.6,0M202.3,162.4a2.30,2.30 0 1,0 4.6,0a2.30,2.30 0 1,0 -4.6,0M203.8,162.1a2.30,2.30 0 1,0 4.6,0a2.30,2.30 0 1,0 -4.6,0M205.2,161.9a2.30,2.30 0 1,0 4.6,0a2.30,2.30 0 1,0 -4.6,0M206.7,161.6a2.30,2.30 0 1,0 4.6,0a2.30,2.30 0 1,0 -4.6,0M208.2,161.4a2.30,2.30 0 1,0 4.6,0a2.30,2.30 0 1,0 -4.6,0M209.7,161.2a2.30,2.30 0 1,0 4.6,0a2.30,2.30 0 1,0 -4.6,0M211.2,161.0a2.30,2.30 0 1,0 4.6,0a2.30,2.30 0 1,0 -4.6,0M212.6,160.8a2.30,2.30 0 1,0 4.6,0a2.30,2.30 0 1,0 -4.6,0M214.1,160.6a2.30,2.30 0 1,0 4.6,0a2.30,2.30 0 1,0 -4.6,0M215.6,160.4a2.30,2.30 0 1,0 4.6,0a2.30,2.30 0 1,0 -4.6,0M217.1,160.3a2.30,2.30 0 1,0 4.6,0a2.30,2.30 0 1,0 -4.6,0M218.5,160.1a2.30,2.30 0 1,0 4.6,0a2.30,2.30 0 1,0 -4.6,0M220.0,160.0a2.30,2.30 0 1,0 4.6,0a2.30,2.30 0 1,0 -4.6,0M221.5,159.8a2.30,2.30 0 1,0 4.6,0a2.30,2.30 0 1,0 -4.6,0M223.0,159.7a2.30,2.30 0 1,0 4.6,0a2.30,2.30 0 1,0 -4.6,0M224.4,159.6a2.30,2.30 0 1,0 4.6,0a2.30,2.30 0 1,0 -4.6,0M225.9,159.5a2.30,2.30 0 1,0 4.6,0a2.30,2.30 0 1,0 -4.6,0M227.4,159.4a2.30,2.30 0 1,0 4.6,0a2.30,2.30 0 1,0 -4.6,0M228.9,159.3a2.30,2.30 0 1,0 4.6,0a2.30,2.30 0 1,0 -4.6,0M230.3,159.2a2.30,2.30 0 1,0 4.6,0a2.30,2.30 0 1,0 -4.6,0M231.8,159.2a2.30,2.30 0 1,0 4.6,0a2.30,2.30 0 1,0 -4.6,0M233.3,159.1a2.30,2.30 0 1,0 4.6,0a2.30,2.30 0 1,0 -4.6,0M234.8,159.0a2.30,2.30 0 1,0 4.6,0a2.30,2.30 0 1,0 -4.6,0M236.3,159.0a2.30,2.30 0 1,0 4.6,0a2.30,2.30 0 1,0 -4.6,0M237.7,158.9a2.30,2.30 0 1,0 4.6,0a2.30,2.30 0 1,0 -4.6,0M239.2,158.8a2.30,2.30 0 1,0 4.6,0a2.30,2.30 0 1,0 -4.6,0M240.7,158.8a2.30,2.30 0 1,0 4.6,0a2.30,2.30 0 1,0 -4.6,0M242.2,158.8a2.30,2.30 0 1,0 4.6,0a2.30,2.30 0 1,0 -4.6,0M243.6,158.7a2.30,2.30 0 1,0 4.6,0a2.30,2.30 0 1,0 -4.6,0M245.1,158.7a2.30,2.30 0 1,0 4.6,0a2.30,2.30 0 1,0 -4.6,0M246.6,158.6a2.30,2.30 0 1,0 4.6,0a2.30,2.30 0 1,0 -4.6,0M248.1,158.6a2.30,2.30 0 1,0 4.6,0a2.30,2.30 0 1,0 -4.6,0M249.5,158.6a2.30,2.30 0 1,0 4.6,0a2.30,2.30 0 1,0 -4.6,0M251.0,158.6a2.30,2.30 0 1,0 4.6,0a2.30,2.30 0 1,0 -4.6,0M252.5,158.5a2.30,2.30 0 1,0 4.6,0a2.30,2.30 0 1,0 -4.6,0M254.0,158.5a2.30,2.30 0 1,0 4.6,0a2.30,2.30 0 1,0 -4.6,0M255.5,158.5a2.30,2.30 0 1,0 4.6,0a2.30,2.30 0 1,0 -4.6,0M256.9,158.5a2.30,2.30 0 1,0 4.6,0a2.30,2.30 0 1,0 -4.6,0M258.4,158.5a2.30,2.30 0 1,0 4.6,0a2.30,2.30 0 1,0 -4.6,0M259.9,158.5a2.30,2.30 0 1,0 4.6,0a2.30,2.30 0 1,0 -4.6,0M261.4,158.5a2.30,2.30 0 1,0 4.6,0a2.30,2.30 0 1,0 -4.6,0M262.8,158.5a2.30,2.30 0 1,0 4.6,0a2.30,2.30 0 1,0 -4.6,0M264.3,158.5a2.30,2.30 0 1,0 4.6,0a2.30,2.30 0 1,0 -4.6,0M265.8,158.5a2.30,2.30 0 1,0 4.6,0a2.30,2.30 0 1,0 -4.6,0M267.3,158.5a2.30,2.30 0 1,0 4.6,0a2.30,2.30 0 1,0 -4.6,0M268.7,158.5a2.30,2.30 0 1,0 4.6,0a2.30,2.30 0 1,0 -4.6,0M270.2,158.5a2.30,2.30 0 1,0 4.6,0a2.30,2.30 0 1,0 -4.6,0M271.7,158.6a2.30,2.30 0 1,0 4.6,0a2.30,2.30 0 1,0 -4.6,0M273.2,158.6a2.30,2.30 0 1,0 4.6,0a2.30,2.30 0 1,0 -4.6,0M274.7,158.6a2.30,2.30 0 1,0 4.6,0a2.30,2.30 0 1,0 -4.6,0M276.1,158.6a2.30,2.30 0 1,0 4.6,0a2.30,2.30 0 1,0 -4.6,0M277.6,158.7a2.30,2.30 0 1,0 4.6,0a2.30,2.30 0 1,0 -4.6,0M279.1,158.7a2.30,2.30 0 1,0 4.6,0a2.30,2.30 0 1,0 -4.6,0M280.6,158.7a2.30,2.30 0 1,0 4.6,0a2.30,2.30 0 1,0 -4.6,0M282.0,158.8a2.30,2.30 0 1,0 4.6,0a2.30,2.30 0 1,0 -4.6,0M283.5,158.8a2.30,2.30 0 1,0 4.6,0a2.30,2.30 0 1,0 -4.6,0M285.0,158.8a2.30,2.30 0 1,0 4.6,0a2.30,2.30 0 1,0 -4.6,0M286.5,158.9a2.30,2.30 0 1,0 4.6,0a2.30,2.30 0 1,0 -4.6,0M287.9,158.9a2.30,2.30 0 1,0 4.6,0a2.30,2.30 0 1,0 -4.6,0M289.4,159.0a2.30,2.30 0 1,0 4.6,0a2.30,2.30 0 1,0 -4.6,0M290.9,159.0a2.30,2.30 0 1,0 4.6,0a2.30,2.30 0 1,0 -4.6,0M292.4,159.1a2.30,2.30 0 1,0 4.6,0a2.30,2.30 0 1,0 -4.6,0M293.9,159.2a2.30,2.30 0 1,0 4.6,0a2.30,2.30 0 1,0 -4.6,0M295.3,159.2a2.30,2.30 0 1,0 4.6,0a2.30,2.30 0 1,0 -4.6,0M296.8,159.3a2.30,2.30 0 1,0 4.6,0a2.30,2.30 0 1,0 -4.6,0M298.3,159.3a2.30,2.30 0 1,0 4.6,0a2.30,2.30 0 1,0 -4.6,0M299.8,159.4a2.30,2.30 0 1,0 4.6,0a2.30,2.30 0 1,0 -4.6,0M301.2,159.5a2.30,2.30 0 1,0 4.6,0a2.30,2.30 0 1,0 -4.6,0M302.7,159.5a2.30,2.30 0 1,0 4.6,0a2.30,2.30 0 1,0 -4.6,0M304.2,159.6a2.30,2.30 0 1,0 4.6,0a2.30,2.30 0 1,0 -4.6,0M305.7,159.7a2.30,2.30 0 1,0 4.6,0a2.30,2.30 0 1,0 -4.6,0M307.1,159.8a2.30,2.30 0 1,0 4.6,0a2.30,2.30 0 1,0 -4.6,0M308.6,159.8a2.30,2.30 0 1,0 4.6,0a2.30,2.30 0 1,0 -4.6,0M310.1,159.9a2.30,2.30 0 1,0 4.6,0a2.30,2.30 0 1,0 -4.6,0M311.6,160.0a2.30,2.30 0 1,0 4.6,0a2.30,2.30 0 1,0 -4.6,0M313.0,160.1a2.30,2.30 0 1,0 4.6,0a2.30,2.30 0 1,0 -4.6,0M314.5,160.1a2.30,2.30 0 1,0 4.6,0a2.30,2.30 0 1,0 -4.6,0M316.0,160.2a2.30,2.30 0 1,0 4.6,0a2.30,2.30 0 1,0 -4.6,0M317.5,160.3a2.30,2.30 0 1,0 4.6,0a2.30,2.30 0 1,0 -4.6,0M319.0,160.4a2.30,2.30 0 1,0 4.6,0a2.30,2.30 0 1,0 -4.6,0M320.4,160.5a2.30,2.30 0 1,0 4.6,0a2.30,2.30 0 1,0 -4.6,0M321.9,160.6a2.30,2.30 0 1,0 4.6,0a2.30,2.30 0 1,0 -4.6,0M323.4,160.7a2.30,2.30 0 1,0 4.6,0a2.30,2.30 0 1,0 -4.6,0M324.9,160.8a2.30,2.30 0 1,0 4.6,0a2.30,2.30 0 1,0 -4.6,0M326.3,160.9a2.30,2.30 0 1,0 4.6,0a2.30,2.30 0 1,0 -4.6,0M327.8,161.0a2.30,2.30 0 1,0 4.6,0a2.30,2.30 0 1,0 -4.6,0M329.3,161.0a2.30,2.30 0 1,0 4.6,0a2.30,2.30 0 1,0 -4.6,0M330.8,161.1a2.30,2.30 0 1,0 4.6,0a2.30,2.30 0 1,0 -4.6,0M332.2,161.2a2.30,2.30 0 1,0 4.6,0a2.30,2.30 0 1,0 -4.6,0M333.7,161.3a2.30,2.30 0 1,0 4.6,0a2.30,2.30 0 1,0 -4.6,0M335.2,161.4a2.30,2.30 0 1,0 4.6,0a2.30,2.30 0 1,0 -4.6,0M336.7,161.5a2.30,2.30 0 1,0 4.6,0a2.30,2.30 0 1,0 -4.6,0M338.2,161.6a2.30,2.30 0 1,0 4.6,0a2.30,2.30 0 1,0 -4.6,0M339.6,161.7a2.30,2.30 0 1,0 4.6,0a2.30,2.30 0 1,0 -4.6,0M341.1,161.8a2.30,2.30 0 1,0 4.6,0a2.30,2.30 0 1,0 -4.6,0M342.6,161.9a2.30,2.30 0 1,0 4.6,0a2.30,2.30 0 1,0 -4.6,0M344.1,162.0a2.30,2.30 0 1,0 4.6,0a2.30,2.30 0 1,0 -4.6,0M345.5,162.1a2.30,2.30 0 1,0 4.6,0a2.30,2.30 0 1,0 -4.6,0M347.0,162.3a2.30,2.30 0 1,0 4.6,0a2.30,2.30 0 1,0 -4.6,0M348.5,162.4a2.30,2.30 0 1,0 4.6,0a2.30,2.30 0 1,0 -4.6,0M350.0,162.5a2.30,2.30 0 1,0 4.6,0a2.30,2.30 0 1,0 -4.6,0M351.4,162.6a2.30,2.30 0 1,0 4.6,0a2.30,2.30 0 1,0 -4.6,0M352.9,162.7a2.30,2.30 0 1,0 4.6,0a2.30,2.30 0 1,0 -4.6,0M354.4,162.8a2.30,2.30 0 1,0 4.6,0a2.30,2.30 0 1,0 -4.6,0M355.9,162.9a2.30,2.30 0 1,0 4.6,0a2.30,2.30 0 1,0 -4.6,0M357.4,163.0a2.30,2.30 0 1,0 4.6,0a2.30,2.30 0 1,0 -4.6,0M358.8,163.1a2.30,2.30 0 1,0 4.6,0a2.30,2.30 0 1,0 -4.6,0M360.3,163.2a2.30,2.30 0 1,0 4.6,0a2.30,2.30 0 1,0 -4.6,0M361.8,163.3a2.30,2.30 0 1,0 4.6,0a2.30,2.30 0 1,0 -4.6,0M363.3,163.4a2.30,2.30 0 1,0 4.6,0a2.30,2.30 0 1,0 -4.6,0M364.7,163.5a2.30,2.30 0 1,0 4.6,0a2.30,2.30 0 1,0 -4.6,0M366.2,163.6a2.30,2.30 0 1,0 4.6,0a2.30,2.30 0 1,0 -4.6,0M367.7,163.7a2.30,2.30 0 1,0 4.6,0a2.30,2.30 0 1,0 -4.6,0M369.2,163.8a2.30,2.30 0 1,0 4.6,0a2.30,2.30 0 1,0 -4.6,0M370.6,163.9a2.30,2.30 0 1,0 4.6,0a2.30,2.30 0 1,0 -4.6,0M372.1,164.0a2.30,2.30 0 1,0 4.6,0a2.30,2.30 0 1,0 -4.6,0M373.6,164.2a2.30,2.30 0 1,0 4.6,0a2.30,2.30 0 1,0 -4.6,0M375.1,164.3a2.30,2.30 0 1,0 4.6,0a2.30,2.30 0 1,0 -4.6,0M376.6,164.4a2.30,2.30 0 1,0 4.6,0a2.30,2.30 0 1,0 -4.6,0" fill="#ff0000"/>
<polyline points="85.2,475.5 85.4,474.0 85.7,472.4 85.9,470.9 86.1,469.3 86.4,467.8 86.6,466.2 86.8,464.7 87.0,463.1 87.2,461.6 87.4,460.0 87.6,458.5 87.8,456.9 88.0,455.4 88.2,453.8 88.4,452.3 88.5,450.7 88.7,449.1 88.9,447.6 89.0,446.0 89.2,444.5 89.4,442.9 89.5,441.4 89.7,439.8 89.8,438.2 90.0,436.7 90.1,435.1 90.2,433.5 90.4,432.0 90.5,430.4 90.6,428.8 90.8,427.3 90.9,425.7 91.0,424.2 91.1,422.6 91.2,421.0 91.4,419.5 91.5,417.9 91.6,416.3 91.7,414.7 91.8,413.2 91.9,411.6 92.0,410.0 92.1,408.5 92.2,406.9 92.3,405.3 92.4,403.8 92.5,402.2 92.6,400.6 92.7,399.0 92.8,397.5 92.9,395.9 93.0,394.3 93.1,392.8 93.1,391.2 93.2,389.6 93.3,388.0 93.4,386.5 93.5,384.9 93.6,383.3 93.7,381.7 93.7,380.2 93.8,378.6 93.9,377.0 94.0,375.5 94.1,373.9 94.2,372.3 94.3,370.7 94.3,369.2 94.4,367.6 94.5,366.0 94.6,364.4 94.7,362.9 94.8,361.3 94.9,359.7 95.0,358.2 95.1,356.6 95.2,355.0 95.3,353.4 95.3,351.9 95.4,350.3 95.5,348.7 95.6,347.2 95.7,345.6 95.9,344.0 96.0,342.4 96.1,340.9 96.2,339.3 96.3,337.7 96.4,336.2 96.5,334.6 96.6,333.0 96.8,331.5 96.9,329.9 97.0,328.3 97.1,326.8 97.3,325.2 97.4,323.6 97.5,322.1 97.7,320.5 97.8,318.9 98.0,317.4 98.1,315.8 98.3,314.3 98.4,312.7 98.6,311.1 98.7,309.6 98.9,308.0 99.1,306.4 99.3,304.9 99.4,303.3 99.6,301.8 99.8,300.2 100.0,298.7 100.2,297.1 100.4,295.6 100.6,294.0 100.8,292.4 101.0,290.9 101.2,289.3 101.4,287.8 101.7,286.2 101.9,284.7 102.1,283.1 102.4,281.6 102.6,280.0 102.9,278.5 103.1,277.0 103.4,275.4 103.6,273.9 103.9,272.3 104.2,270.8 104.5,269.2 104.7,267.7 105.0,266.2 105.3,264.6 105.6,263.1 105.9,261.5 106.2,260.0 106.5,258.5 106.8,256.9 107.1,255.4 107.4,253.9 107.7,252.3 108.1,250.8 108.4,249.3 108.7,247.7 109.1,246.2 109.4,244.7 109.7,243.1 110.1,241.6 110.4,240.1 110.8,238.5 111.1,237.0 111.5,235.5 111.9,234.0 112.2,232.4 112.6,230.9 113.0,229.4 113.3,227.8 113.7,226.3 114.1,224.8 114.5,223.3 114.8,221.8 115.2,220.2 115.6,218.7 116.0,217.2 116.4,215.7 116.8,214.1 117.2,212.6 117.6,211.1 118.0,209.6 118.4,208.1 118.8,206.5 119.2,205.0 119.7,203.5 120.1,202.0 120.5,200.5 120.9,199.0 121.3,197.4 121.8,195.9 122.2,194.4 122.6,192.9 123.0,191.4 123.5,189.9 123.9,188.3 124.3,186.8 124.8,185.3 125.2,183.8 125.7,182.3 126.1,180.8 126.5,179.3 127.0,177.7 127.4,176.2 127.9,174.7 128.3,173.2 128.8,171.7 129.2,170.2 129.7,168.7 130.1,167.2 130.6,165.7 131.0,164.1 131.5,162.6 132.0,161.1 132.4,159.6 132.9,158.1 133.3,156.6 133.8,155.1 134.3,153.6 134.7,152.1 135.2,150.6 135.6,149.0 136.1,147.5 136.6,146.0 137.0,144.5 137.5,143.0 138.0,141.5 138.5,140.0 138.9,138.5 139.4,137.0 140.0,135.6 140.5,134.1 141.0,132.6 141.6,131.2 142.2,129.8 142.8,128.4 143.5,127.0 144.2,125.6 144.9,124.3 145.6,123.0 146.4,121.7 147.3,120.4 148.1,119.1 149.0,117.9 150.0,116.8 151.0,115.6 152.1,114.5 153.2,113.4 154.4,112.4 155.7,111.4 156.9,110.4 158.3,109.5 159.7,108.6 161.1,107.8 162.5,106.9 164.0,106.1 165.4,105.4 166.9,104.6 168.4,103.9 169.9,103.2 171.4,102.6 172.9,102.1 174.5,101.7 176.0,101.3 177.4,101.0 178.9,100.9 180.4,100.8 181.8,100.9 183.3,101.1 184.7,101.3 186.1,101.7 187.5,102.1 188.9,102.7 190.3,103.3 191.6,103.9 192.9,104.7 194.3,105.5 195.6,106.3 196.8,107.3 198.1,108.2 199.4,109.2 200.6,110.2 201.8,111.3 203.0,112.4 204.2,113.5 205.3,114.6 206.5,115.7 207.6,116.9 208.7,118.0 209.8,119.2 210.9,120.3 211.9,121.5 213.0,122.6 214.1,123.8 215.1,124.9 216.2,126.1 217.3,127.2 218.4,128.4 219.5,129.5 220.6,130.6 221.7,131.7 222.8,132.7 224.0,133.8 225.1,134.8 226.3,135.8 227.6,136.8 228.8,137.8 230.1,138.7 231.4,139.6 232.7,140.5 234.0,141.2" stroke="#0000ff" stroke-width="1.6"/>
<path d="M85.2,473.1l2.3,4.1h-4.6zM85.9,468.3l2.3,4.1h-4.6zM86.7,463.2l2.3,4.1h-4.6zM87.4,457.6l2.3,4.1h-4.6zM88.2,451.6l2.3,4.1h-4.6zM88.9,445.0l2.3,4.1h-4.6zM89.6,437.7l2.3,4.1h-4.6zM90.4,429.6l2.3,4.1h-4.6zM91.1,420.5l2.3,4.1h-4.6zM91.8,410.1l2.3,4.1h-4.6zM92.6,398.5l2.3,4.1h-4.6zM93.3,385.6l2.3,4.1h-4.6zM94.1,372.0l2.3,4.1h-4.6zM94.8,358.8l2.3,4.1h-4.6zM95.5,346.5l2.3,4.1h-4.6zM96.3,335.5l2.3,4.1h-4.6zM97.0,325.8l2.3,4.1h-4.6zM97.7,317.3l2.3,4.1h-4.6zM98.5,309.6l2.3,4.1h-4.6zM99.2,302.7l2.3,4.1h-4.6zM100.0,296.4l2.3,4.1h-4.6zM100.7,290.7l2.3,4.1h-4.6zM101.4,285.4l2.3,4.1h-4.6zM102.2,280.4l2.3,4.1h-4.6zM102.9,275.7l2.3,4.1h-4.6zM103.7,271.3l2.3,4.1h-4.6zM104.4,267.1l2.3,4.1h-4.6zM105.1,263.1l2.3,4.1h-4.6zM105.9,259.2l2.3,4.1h-4.6zM106.6,255.5l2.3,4.1h-4.6zM107.3,251.8l2.3,4.1h-4.6zM108.1,248.3l2.3,4.1h-4.6zM108.8,244.8l2.3,4.1h-4.6zM109.6,241.5l2.3,4.1h-4.6zM110.3,238.2l2.3,4.1h-4.6zM111.0,235.0l2.3,4.1h-4.6zM111.8,231.8l2.3,4.1h-4.6zM112.5,228.7l2.3,4.1h-4.6zM113.3,225.7l2.3,4.1h-4.6zM114.0,222.7l2.3,4.1h-4.6zM114.7,219.8l2.3,4.1h-4.6zM115.5,216.9l2.3,4.1h-4.6zM116.2,214.0l2.3,4.1h-4.6zM116.9,211.2l2.3,4.1h-4.6zM117.7,208.4l2.3,4.1h-4.6zM118.4,205.6l2.3,4.1h-4.6zM119.2,202.9l2.3,4.1h-4.6zM119.9,200.2l2.3,4.1h-4.6zM120.6,197.5l2.3,4.1h-4.6zM121.4,194.8l2.3,4.1h-4.6zM122.1,192.2l2.3,4.1h-4.6zM122.9,189.6l2.3,4.1h-4.6zM123.6,187.0l2.3,4.1h-4.6zM124.3,184.4l2.3,4.1h-4.6zM125.1,181.9l2.3,4.1h-4.6zM125.8,179.4l2.3,4.1h-4.6zM126.5,176.8l2.3,4.1h-4.6zM127.3,174.3l2.3,4.1h-4.6zM128.0,171.8l2.3,4.1h-4.6zM128.8,169.3l2.3,4.1h-4.6zM129.5,166.9l2.3,4.1h-4.6zM130.2,164.4l2.3,4.1h-4.6zM131.0,162.0l2.3,4.1h-4.6zM131.7,159.5l2.3,4.1h-4.6zM132.5,157.1l2.3,4.1h-4.6zM133.2,154.7l2.3,4.1h-4.6zM133.9,152.2l2.3,4.1h-4.6zM134.7,149.8l2.3,4.1h-4.6zM135.4,147.4l2.3,4.1h-4.6zM136.1,145.0l2.3,4.1h-4.6zM136.9,142.6l2.3,4.1h-4.6zM137.6,140.2l2.3,4.1h-4.6zM138.4,137.9l2.3,4.1h-4.6zM139.1,135.6l2.3,4.1h-4.6zM139.8,133.5l2.3,4.1h-4.6zM140.6,131.5l2.3,4.1h-4.6zM141.3,129.5l2.3,4.1h-4.6zM142.1,127.7l2.3,4.1h-4.6zM142.8,126.1l2.3,4.1h-4.6zM143.5,124.5l2.3,4.1h-4.6zM144.3,123.0l2.3,4.1h-4.6zM145.0,121.6l2.3,4.1h-4.6zM145.7,120.4l2.3,4.1h-4.6zM146.5,119.1l2.3,4.1h-4.6zM147.2,118.0l2.3,4.1h-4.6zM148.0,117.0l2.3,4.1h-4.6zM148.7,116.0l2.3,4.1h-4.6zM149.4,115.0l2.3,4.1h-4.6zM150.2,114.2l2.3,4.1h-4.6zM150.9,113.3l2.3,4.1h-4.6zM151.7,112.5l2.3,4.1h-4.6zM152.4,111.8l2.3,4.1h-4.6zM153.1,111.1l2.3,4.1h-4.6zM154.6,109.8l2.3,4.1h-4.6zM156.1,108.6l2.3,4.1h-4.6zM157.6,107.6l2.3,4.1h-4.6zM159.0,106.6l2.3,4.1h-4.6zM160.5,105.7l2.3,4.1h-4.6zM162.0,104.8l2.3,4.1h-4.6zM163.5,104.0l2.3,4.1h-4.6zM164.9,103.2l2.3,4.1h-4.6zM166.4,102.4l2.3,4.1h-4.6zM167.9,101.7l2.3,4.1h-4.6zM169.4,101.1l2.3,4.1h-4.6zM170.9,100.5l2.3,4.1h-4.6zM172.3,99.9l2.3,4.1h-4.6zM173.8,99.4l2.3,4.1h-4.6zM175.3,99.0l2.3,4.1h-4.6zM176.8,98.7l2.3,4.1h-4.6zM178.2,98.5l2.3,4.1h-4.6zM179.7,98.4l2.3,4.1h-4.6zM181.2,98.4l2.3,4.1h-4.6zM182.7,98.6l2.3,4.1h-4.6zM184.1,98.8l2.3,4.1h-4.6zM185.6,99.1l2.3,4.1h-4.6zM187.1,99.6l2.3,4.1h-4.6zM188.6,100.1l2.3,4.1h-4.6zM190.0,100.8l2.3,4.1h-4.6zM191.5,101.5l2.3,4.1h-4.6zM193.0,102.3l2.3,4.1h-4.6zM194.5,103.2l2.3,4.1h-4.6zM196.0,104.2l2.3,4.1h-4.6zM197.4,105.3l2.3,4.1h-4.6zM198.9,106.4l2.3,4.1h-4.6zM200.4,107.6l2.3,4.1h-4.6zM201.9,108.9l2.3,4.1h-4.6zM203.3,110.3l2.3,4.1h-4.6zM204.1,111.0l2.3,4.1h-4.6zM204.8,111.7l2.3,4.1h-4.6zM205.6,112.4l2.3,4.1h-4.6zM206.3,113.2l2.3,4.1h-4.6zM207.0,113.9l2.3,4.1h-4.6zM207.8,114.7l2.3,4.1h-4.6zM208.5,115.4l2.3,4.1h-4.6zM209.2,116.2l2.3,4.1h-4.6zM210.0,117.0l2.3,4.1h-4.6zM210.7,117.8l2.3,4.1h-4.6zM211.5,118.6l2.3,4.1h-4.6zM212.2,119.4l2.3,4.1h-4.6zM212.9,120.2l2.3,4.1h-4.6zM213.7,120.9l2.3,4.1h-4.6zM214.4,121.7l2.3,4.1h-4.6zM215.2,122.5l2.3,4.1h-4.6zM215.9,123.3l2.3,4.1h-4.6zM216.6,124.1l2.3,4.1h-4.6zM217.4,124.9l2.3,4.1h-4.6zM218.1,125.7l2.3,4.1h-4.6zM218.8,126.4l2.3,4.1h-4.6zM219.6,127.2l2.3,4.1h-4.6zM220.3,127.9l2.3,4.1h-4.6zM221.1,128.6l2.3,4.1h-4.6zM221.8,129.4l2.3,4.1h-4.6zM222.5,130.1l2.3,4.1h-4.6zM223.3,130.7l2.3,4.1h-4.6zM224.8,132.1l2.3,4.1h-4.6zM226.2,133.3l2.3,4.1h-4.6zM227.7,134.5l2.3,4.1h-4.6zM229.2,135.6l2.3,4.1h-4.6zM230.7,136.7l2.3,4.1h-4.6zM232.1,137.7l2.3,4.1h-4.6zM233.6,138.6l2.3,4.1h-4.6z" fill="#0000ff"/>
<polyline points="88.0,475.8 89.1,474.1 90.1,472.2 91.0,470.3 91.8,468.4 92.4,466.5 93.0,464.5 93.5,462.4 93.9,460.4 94.3,458.3 94.6,456.2 94.9,454.1 95.2,452.0 95.4,449.9 95.7,447.8 96.0,445.7 96.2,443.5 96.5,441.4 96.8,439.3 97.0,437.2 97.3,435.1 97.6,433.0 97.9,430.9 98.2,428.8 98.5,426.7 98.8,424.6 99.0,422.5 99.3,420.4 99.6,418.3 99.9,416.2 100.2,414.1 100.5,412.0 100.8,409.9 101.1,407.8 101.4,405.7 101.7,403.6 102.0,401.5 102.3,399.4 102.5,397.3 102.8,395.2 103.1,393.1 103.4,391.0 103.7,388.9 103.9,386.8 104.2,384.7 104.5,382.6 104.8,380.4 105.0,378.3 105.3,376.2 105.5,374.1 105.8,372.0 106.1,369.9 106.3,367.8 106.6,365.7 106.8,363.6 107.1,361.5 107.3,359.4 107.6,357.2 107.8,355.1 108.1,353.0 108.3,350.9 108.6,348.8 108.8,346.7 109.1,344.6 109.3,342.5 109.6,340.4 109.8,338.2 110.1,336.1 110.3,334.0 110.6,331.9 110.8,329.8 111.1,327.7 111.4,325.6 111.6,323.5 111.9,321.4 112.1,319.3 112.4,317.1 112.7,315.0 113.0,312.9 113.2,310.8 113.5,308.7 113.8,306.6 114.1,304.5 114.4,302.4 114.7,300.3 115.0,298.2 115.3,296.1 115.6,294.0 115.9,291.9 116.2,289.8 116.5,287.7 116.8,285.6 117.1,283.5 117.5,281.4 117.8,279.4 118.2,277.3 118.5,275.2 118.9,273.1 119.2,271.0 119.6,268.9 120.0,266.8 120.3,264.8 120.7,262.7 121.1,260.6 121.5,258.5 121.9,256.4 122.3,254.4 122.7,252.3 123.1,250.2 123.5,248.1 123.9,246.1 124.3,244.0 124.8,241.9 125.2,239.9 125.6,237.8 126.0,235.7 126.4,233.6 126.9,231.6 127.3,229.5 127.7,227.4 128.1,225.3 128.5,223.2 129.0,221.2 129.4,219.1 129.8,217.0 130.2,214.9 130.6,212.8 131.0,210.8 131.4,208.7 131.8,206.6 132.2,204.5 132.6,202.4 133.0,200.3 133.4,198.2 133.7,196.1 134.1,194.0 134.5,191.9 134.9,189.8 135.2,187.7 135.6,185.6 136.0,183.5 136.3,181.4 136.7,179.3 137.1,177.2 137.4,175.1 137.8,173.0 138.2,170.9 138.6,168.8 139.0,166.7 139.4,164.6 139.8,162.6 140.3,160.5 140.7,158.4 141.1,156.3 141.6,154.3 142.1,152.2 142.5,150.2 143.0,148.1 143.6,146.1 144.1,144.0 144.6,142.0 145.2,140.0 145.7,138.0 146.3,135.9 146.9,133.9 147.5,131.9 148.1,129.9 148.7,127.9 149.3,125.9 150.0,123.9 150.6,121.8 151.3,119.8 151.9,117.8 152.6,115.8 153.2,113.8 153.9,111.8 154.6,109.8 155.3,107.7 156.0,105.7 156.7,103.7 157.4,101.6 158.1,99.6 158.8,97.6 159.6,95.5 160.3,93.5 161.1,91.5 161.9,89.5 162.8,87.6 163.6,85.6 164.5,83.6 165.4,81.7 166.4,79.8 167.4,78.0 168.4,76.1 169.5,74.3 170.6,72.5 171.8,70.8 173.0,69.1 174.3,67.4 175.6,65.8 177.0,64.2 178.5,62.6 179.9,61.1 181.5,59.7 183.0,58.3 184.7,57.0 186.3,55.7 188.0,54.5 189.8,53.4 191.6,52.3 193.4,51.2 195.3,50.3 197.2,49.4 199.1,48.6 201.1,47.9 203.1,47.2 205.1,46.7 207.1,46.2 209.2,45.8 211.3,45.4 213.4,45.2 215.5,45.0 217.7,44.8 219.8,44.7 222.0,44.7 224.2,44.7 226.3,44.8 228.5,44.9 230.7,45.1 232.9,45.2 235.0,45.4 237.2,45.6 239.4,45.8 241.5,46.1 243.7,46.3 245.8,46.6 247.9,46.8 250.0,47.1 252.1,47.4 254.2,47.7 256.3,48.0 258.3,48.4 260.4,48.7 262.5,49.1 264.5,49.4 266.6,49.8 268.7,50.2 270.7,50.7 272.8,51.1 274.9,51.6 276.9,52.0 279.0,52.5 281.0,53.0 283.1,53.5 285.1,54.0 287.2,54.5 289.3,55.0 291.3,55.5 293.4,56.0 295.4,56.6 297.5,57.1 299.5,57.6 301.6,58.1 303.6,58.7 305.7,59.2 307.8,59.7 309.8,60.3 311.9,60.8 313.9,61.3 316.0,61.8 318.1,62.4 320.1,62.9 322.2,63.4 324.2,63.9 326.3,64.4 328.4,64.9 330.4,65.4 332.5,65.9 334.6,66.4 336.6,66.9 338.7,67.4 340.8,67.9 342.8,68.4 344.9,68.9 347.0,69.3 349.0,69.8 351.1,70.3 353.2,70.7 355.3,71.2 357.3,71.6 359.4,72.1 361.5,72.5 363.6,73.0 365.6,73.4 367.7,73.8 369.8,74.2 371.9,74.6 374.0,75.0 376.0,75.4 378.1,75.8 380.0,76.2" stroke="#ff00ff" stroke-width="1.6"/>
<path d="M88.0,478.9l2.9,-5.2h-5.8zM88.7,477.8l2.9,-5.2h-5.8zM89.5,476.5l2.9,-5.2h-5.8zM90.2,475.1l2.9,-5.2h-5.8zM91.0,473.5l2.9,-5.2h-5.8zM91.7,471.6l2.9,-5.2h-5.8zM92.4,469.5l2.9,-5.2h-5.8zM93.2,466.8l2.9,-5.2h-5.8zM93.9,463.4l2.9,-5.2h-5.8zM94.6,458.9l2.9,-5.2h-5.8zM95.4,453.2l2.9,-5.2h-5.8zM96.1,447.3l2.9,-5.2h-5.8zM96.9,441.6l2.9,-5.2h-5.8zM97.6,436.1l2.9,-5.2h-5.8zM98.3,430.7l2.9,-5.2h-5.8zM99.1,425.3l2.9,-5.2h-5.8zM99.8,420.0l2.9,-5.2h-5.8zM100.6,414.7l2.9,-5.2h-5.8zM101.3,409.4l2.9,-5.2h-5.8zM102.0,404.1l2.9,-5.2h-5.8zM102.8,398.7l2.9,-5.2h-5.8zM103.5,393.1l2.9,-5.2h-5.8zM104.2,387.5l2.9,-5.2h-5.8zM105.0,381.6l2.9,-5.2h-5.8zM105.7,375.7l2.9,-5.2h-5.8zM106.5,369.6l2.9,-5.2h-5.8zM107.2,363.4l2.9,-5.2h-5.8zM107.9,357.2l2.9,-5.2h-5.8zM108.7,350.9l2.9,-5.2h-5.8zM109.4,344.7l2.9,-5.2h-5.8zM110.2,338.5l2.9,-5.2h-5.8zM110.9,332.4l2.9,-5.2h-5.8zM111.6,326.4l2.9,-5.2h-5.8zM112.4,320.5l2.9,-5.2h-5.8zM113.1,314.8l2.9,-5.2h-5.8zM113.8,309.2l2.9,-5.2h-5.8zM114.6,303.8l2.9,-5.2h-5.8zM115.3,298.6l2.9,-5.2h-5.8zM116.1,293.6l2.9,-5.2h-5.8zM116.8,288.8l2.9,-5.2h-5.8zM117.5,284.1l2.9,-5.2h-5.8zM118.3,279.6l2.9,-5.2h-5.8zM119.0,275.2l2.9,-5.2h-5.8zM119.8,271.0l2.9,-5.2h-5.8zM120.5,266.9l2.9,-5.2h-5.8zM121.2,263.0l2.9,-5.2h-5.8zM122.0,259.1l2.9,-5.2h-5.8zM122.7,255.3l2.9,-5.2h-5.8zM123.4,251.5l2.9,-5.2h-5.8zM124.2,247.8l2.9,-5.2h-5.8zM124.9,244.1l2.9,-5.2h-5.8zM125.7,240.5l2.9,-5.2h-5.8zM126.4,236.9l2.9,-5.2h-5.8zM127.1,233.2l2.9,-5.2h-5.8zM127.9,229.6l2.9,-5.2h-5.8zM128.6,225.9l2.9,-5.2h-5.8zM129.4,222.2l2.9,-5.2h-5.8zM130.1,218.5l2.9,-5.2h-5.8zM130.8,214.8l2.9,-5.2h-5.8zM131.6,210.9l2.9,-5.2h-5.8zM132.3,207.0l2.9,-5.2h-5.8zM133.0,203.0l2.9,-5.2h-5.8zM133.8,198.9l2.9,-5.2h-5.8zM134.5,194.8l2.9,-5.2h-5.8zM135.3,190.5l2.9,-5.2h-5.8zM136.0,186.3l2.9,-5.2h-5.8zM136.7,182.1l2.9,-5.2h-5.8zM137.5,178.0l2.9,-5.2h-5.8zM138.2,174.0l2.9,-5.2h-5.8zM139.0,170.1l2.9,-5.2h-5.8zM139.7,166.3l2.9,-5.2h-5.8zM140.4,162.7l2.9,-5.2h-5.8zM141.2,159.2l2.9,-5.2h-5.8zM141.9,156.0l2.9,-5.2h-5.8zM142.6,152.8l2.9,-5.2h-5.8zM143.4,149.8l2.9,-5.2h-5.8zM144.1,146.9l2.9,-5.2h-5.8zM144.9,144.2l2.9,-5.2h-5.8zM145.6,141.5l2.9,-5.2h-5.8zM146.3,138.9l2.9,-5.2h-5.8zM147.1,136.3l2.9,-5.2h-5.8zM147.8,133.8l2.9,-5.2h-5.8zM148.6,131.4l2.9,-5.2h-5.8zM149.3,129.0l2.9,-5.2h-5.8zM150.0,126.7l2.9,-5.2h-5.8zM150.8,124.4l2.9,-5.2h-5.8zM151.5,122.1l2.9,-5.2h-5.8zM152.2,119.8l2.9,-5.2h-5.8zM153.0,117.6l2.9,-5.2h-5.8zM153.7,115.4l2.9,-5.2h-5.8zM154.5,113.2l2.9,-5.2h-5.8zM155.2,111.0l2.9,-5.2h-5.8zM155.9,108.9l2.9,-5.2h-5.8zM156.7,106.7l2.9,-5.2h-5.8zM157.4,104.6l2.9,-5.2h-5.8zM158.2,102.5l2.9,-5.2h-5.8zM158.9,100.5l2.9,-5.2h-5.8zM159.6,98.5l2.9,-5.2h-5.8zM160.4,96.5l2.9,-5.2h-5.8zM161.1,94.6l2.9,-5.2h-5.8zM161.8,92.8l2.9,-5.2h-5.8zM162.6,91.0l2.9,-5.2h-5.8zM163.3,89.3l2.9,-5.2h-5.8zM164.1,87.7l2.9,-5.2h-5.8zM164.8,86.1l2.9,-5.2h-5.8zM165.5,84.6l2.9,-5.2h-5.8zM166.3,83.1l2.9,-5.2h-5.8zM167.0,81.7l2.9,-5.2h-5.8zM167.8,80.3l2.9,-5.2h-5.8zM168.5,79.0l2.9,-5.2h-5.8zM169.2,77.8l2.9,-5.2h-5.8zM170.0,76.6l2.9,-5.2h-5.8zM170.7,75.5l2.9,-5.2h-5.8zM171.4,74.3l2.9,-5.2h-5.8zM172.2,73.3l2.9,-5.2h-5.8zM172.9,72.3l2.9,-5.2h-5.8zM173.7,71.3l2.9,-5.2h-5.8zM174.4,70.3l2.9,-5.2h-5.8zM175.1,69.4l2.9,-5.2h-5.8zM175.9,68.5l2.9,-5.2h-5.8zM176.6,67.7l2.9,-5.2h-5.8zM177.4,66.9l2.9,-5.2h-5.8zM178.1,66.1l2.9,-5.2h-5.8zM178.8,65.3l2.9,-5.2h-5.8zM179.6,64.6l2.9,-5.2h-5.8zM180.3,63.8l2.9,-5.2h-5.8zM181.0,63.1l2.9,-5.2h-5.8zM182.5,61.8l2.9,-5.2h-5.8zM184.0,60.6l2.9,-5.2h-5.8zM185.5,59.4l2.9,-5.2h-5.8zM186.9,58.3l2.9,-5.2h-5.8zM188.4,57.3l2.9,-5.2h-5.8zM189.9,56.3l2.9,-5.2h-5.8zM191.4,55.4l2.9,-5.2h-5.8zM192.9,54.6l2.9,-5.2h-5.8zM194.3,53.8l2.9,-5.2h-5.8zM195.8,53.1l2.9,-5.2h-5.8zM197.3,52.4l2.9,-5.2h-5.8zM198.8,51.8l2.9,-5.2h-5.8zM200.2,51.2l2.9,-5.2h-5.8zM201.7,50.7l2.9,-5.2h-5.8zM203.2,50.2l2.9,-5.2h-5.8zM204.7,49.8l2.9,-5.2h-5.8zM206.1,49.4l2.9,-5.2h-5.8zM207.6,49.1l2.9,-5.2h-5.8zM209.1,48.8l2.9,-5.2h-5.8zM210.6,48.6l2.9,-5.2h-5.8zM212.1,48.4l2.9,-5.2h-5.8zM213.5,48.2l2.9,-5.2h-5.8zM215.0,48.0l2.9,-5.2h-5.8zM216.5,47.9l2.9,-5.2h-5.8zM218.0,47.9l2.9,-5.2h-5.8zM219.4,47.8l2.9,-5.2h-5.8zM220.9,47.8l2.9,-5.2h-5.8zM222.4,47.8l2.9,-5.2h-5.8zM223.9,47.8l2.9,-5.2h-5.8zM225.3,47.8l2.9,-5.2h-5.8zM226.8,47.9l2.9,-5.2h-5.8zM228.3,47.9l2.9,-5.2h-5.8zM229.8,48.0l2.9,-5.2h-5.8zM231.3,48.1l2.9,-5.2h-5.8zM232.7,48.3l2.9,-5.2h-5.8zM234.2,48.4l2.9,-5.2h-5.8zM235.7,48.5l2.9,-5.2h-5.8zM237.2,48.7l2.9,-5.2h-5.8zM238.6,48.8l2.9,-5.2h-5.8zM240.1,49.0l2.9,-5.2h-5.8zM241.6,49.1l2.9,-5.2h-5.8zM243.1,49.3l2.9,-5.2h-5.8zM244.5,49.5l2.9,-5.2h-5.8zM246.0,49.7l2.9,-5.2h-5.8zM247.5,49.8l2.9,-5.2h-5.8zM249.0,50.0l2.9,-5.2h-5.8zM250.5,50.2l2.9,-5.2h-5.8zM251.9,50.4l2.9,-5.2h-5.8zM253.4,50.6l2.9,-5.2h-5.8zM254.9,50.9l2.9,-5.2h-5.8zM256.4,51.1l2.9,-5.2h-5.8zM257.8,51.3l2.9,-5.2h-5.8zM259.3,51.6l2.9,-5.2h-5.8zM260.8,51.8l2.9,-5.2h-5.8zM262.3,52.1l2.9,-5.2h-5.8zM263.7,52.3l2.9,-5.2h-5.8zM265.2,52.6l2.9,-5.2h-5.8zM266.7,52.9l2.9,-5.2h-5.8zM268.2,53.2l2.9,-5.2h-5.8zM269.7,53.5l2.9,-5.2h-5.8zM271.1,53.8l2.9,-5.2h-5.8zM272.6,54.1l2.9,-5.2h-5.8zM274.1,54.4l2.9,-5.2h-5.8zM275.6,54.8l2.9,-5.2h-5.8zM277.0,55.1l2.9,-5.2h-5.8zM278.5,55.4l2.9,-5.2h-5.8zM280.0,55.8l2.9,-5.2h-5.8zM281.5,56.1l2.9,-5.2h-5.8zM282.9,56.5l2.9,-5.2h-5.8zM284.4,56.8l2.9,-5.2h-5.8zM285.9,57.2l2.9,-5.2h-5.8zM287.4,57.6l2.9,-5.2h-5.8zM288.8,57.9l2.9,-5.2h-5.8zM290.3,58.3l2.9,-5.2h-5.8zM291.8,58.7l2.9,-5.2h-5.8zM293.3,59.0l2.9,-5.2h-5.8zM294.8,59.4l2.9,-5.2h-5.8zM296.2,59.8l2.9,-5.2h-5.8zM297.7,60.2l2.9,-5.2h-5.8zM299.2,60.6l2.9,-5.2h-5.8zM300.7,61.0l2.9,-5.2h-5.8zM302.1,61.3l2.9,-5.2h-5.8zM303.6,61.7l2.9,-5.2h-5.8zM305.1,62.1l2.9,-5.2h-5.8zM306.6,62.5l2.9,-5.2h-5.8zM308.0,62.9l2.9,-5.2h-5.8zM309.5,63.2l2.9,-5.2h-5.8zM311.0,63.6l2.9,-5.2h-5.8zM312.5,64.0l2.9,-5.2h-5.8zM314.0,64.4l2.9,-5.2h-5.8zM315.4,64.7l2.9,-5.2h-5.8zM316.9,65.1l2.9,-5.2h-5.8zM318.4,65.5l2.9,-5.2h-5.8zM319.9,65.9l2.9,-5.2h-5.8zM321.3,66.2l2.9,-5.2h-5.8zM322.8,66.6l2.9,-5.2h-5.8zM324.3,67.0l2.9,-5.2h-5.8zM325.8,67.3l2.9,-5.2h-5.8zM327.2,67.7l2.9,-5.2h-5.8zM328.7,68.1l2.9,-5.2h-5.8zM330.2,68.4l2.9,-5.2h-5.8zM331.7,68.8l2.9,-5.2h-5.8zM333.2,69.1l2.9,-5.2h-5.8zM334.6,69.5l2.9,-5.2h-5.8zM336.1,69.8l2.9,-5.2h-5.8zM337.6,70.2l2.9,-5.2h-5.8zM339.1,70.5l2.9,-5.2h-5.8zM340.5,70.9l2.9,-5.2h-5.8zM342.0,71.2l2.9,-5.2h-5.8zM343.5,71.6l2.9,-5.2h-5.8zM345.0,71.9l2.9,-5.2h-5.8zM346.4,72.3l2.9,-5.2h-5.8zM347.9,72.6l2.9,-5.2h-5.8zM349.4,72.9l2.9,-5.2h-5.8zM350.9,73.3l2.9,-5.2h-5.8zM352.4,73.6l2.9,-5.2h-5.8zM353.8,73.9l2.9,-5.2h-5.8zM355.3,74.2l2.9,-5.2h-5.8zM356.8,74.6l2.9,-5.2h-5.8zM358.3,74.9l2.9,-5.2h-5.8zM359.7,75.2l2.9,-5.2h-5.8zM361.2,75.5l2.9,-5.2h-5.8zM362.7,75.8l2.9,-5.2h-5.8zM364.2,76.1l2.9,-5.2h-5.8zM365.6,76.4l2.9,-5.2h-5.8zM367.1,76.7l2.9,-5.2h-5.8zM368.6,77.0l2.9,-5.2h-5.8zM370.1,77.3l2.9,-5.2h-5.8zM371.5,77.6l2.9,-5.2h-5.8zM373.0,77.9l2.9,-5.2h-5.8zM374.5,78.2l2.9,-5.2h-5.8zM376.0,78.5l2.9,-5.2h-5.8zM377.5,78.7l2.9,-5.2h-5.8zM378.9,79.0l2.9,-5.2h-5.8z" fill="#ff00ff"/>
<polyline points="85.2,475.6 85.7,474.0 86.2,472.4 86.6,470.7 87.1,469.1 87.5,467.5 87.8,465.9 88.2,464.2 88.6,462.6 88.9,460.9 89.2,459.3 89.5,457.7 89.8,456.0 90.1,454.4 90.4,452.7 90.6,451.1 90.9,449.4 91.1,447.7 91.3,446.1 91.6,444.4 91.8,442.7 92.0,441.1 92.2,439.4 92.3,437.7 92.5,436.1 92.7,434.4 92.9,432.7 93.0,431.1 93.2,429.4 93.4,427.7 93.5,426.0 93.7,424.4 93.9,422.7 94.0,421.0 94.2,419.4 94.4,417.7 94.5,416.0 94.7,414.3 94.9,412.7 95.1,411.0 95.2,409.3 95.4,407.7 95.6,406.0 95.8,404.3 95.9,402.6 96.1,401.0 96.3,399.3 96.5,397.6 96.6,396.0 96.8,394.3 97.0,392.6 97.2,390.9 97.4,389.3 97.5,387.6 97.7,385.9 97.9,384.3 98.1,382.6 98.3,380.9 98.4,379.3 98.6,377.6 98.8,375.9 99.0,374.2 99.1,372.6 99.3,370.9 99.5,369.2 99.7,367.6 99.9,365.9 100.0,364.2 100.2,362.6 100.4,360.9 100.5,359.2 100.7,357.6 100.9,355.9 101.1,354.2 101.2,352.5 101.4,350.9 101.6,349.2 101.7,347.5 101.9,345.9 102.0,344.2 102.2,342.5 102.4,340.9 102.5,339.2 102.7,337.5 102.9,335.8 103.0,334.2 103.2,332.5 103.3,330.8 103.5,329.2 103.6,327.5 103.8,325.8 104.0,324.2 104.1,322.5 104.3,320.8 104.4,319.1 104.6,317.5 104.7,315.8 104.9,314.1 105.1,312.5 105.2,310.8 105.4,309.1 105.5,307.5 105.7,305.8 105.8,304.1 106.0,302.4 106.2,300.8 106.3,299.1 106.5,297.4 106.6,295.8 106.8,294.1 106.9,292.4 107.1,290.8 107.3,289.1 107.4,287.4 107.6,285.7 107.7,284.1 107.9,282.4 108.1,280.7 108.2,279.1 108.4,277.4 108.6,275.7 108.7,274.1 108.9,272.4 109.1,270.7 109.2,269.0 109.4,267.4 109.6,265.7 109.7,264.0 109.9,262.4 110.1,260.7 110.3,259.0 110.4,257.3 110.6,255.7 110.8,254.0 111.0,252.3 111.1,250.7 111.3,249.0 111.5,247.3 111.7,245.7 111.9,244.0 112.1,242.3 112.3,240.6 112.5,239.0 112.6,237.3 112.8,235.6 113.0,234.0 113.2,232.3 113.4,230.6 113.6,229.0 113.8,227.3 114.0,225.6 114.2,224.0 114.4,222.3 114.6,220.6 114.8,218.9 115.1,217.3 115.3,215.6 115.5,213.9 115.7,212.3 115.9,210.6 116.1,208.9 116.3,207.3 116.6,205.6 116.8,203.9 117.0,202.3 117.2,200.6 117.5,198.9 117.7,197.3 117.9,195.6 118.2,194.0 118.4,192.3 118.6,190.6 118.9,189.0 119.1,187.3 119.3,185.6 119.6,184.0 119.8,182.3 120.1,180.7 120.3,179.0 120.6,177.3 120.8,175.7 121.1,174.0 121.3,172.4 121.6,170.7 121.8,169.0 122.1,167.4 122.4,165.7 122.6,164.1 122.9,162.4 123.2,160.8 123.4,159.1 123.7,157.4 124.0,155.8 124.3,154.1 124.5,152.5 124.8,150.8 125.1,149.2 125.4,147.5 125.7,145.9 126.0,144.2 126.2,142.6 126.5,140.9 126.8,139.3 127.1,137.6 127.4,136.0 127.7,134.3 128.0,132.7 128.3,131.1 128.6,129.4 128.9,127.8 129.2,126.1 129.6,124.5 129.9,122.8 130.2,121.2 130.5,119.6 130.8,117.9 131.2,116.3 131.5,114.7 131.8,113.0 132.1,111.4 132.5,109.7 132.8,108.1 133.2,106.5 133.5,104.8 133.9,103.1 134.3,101.5 134.7,99.8 135.1,98.1 135.5,96.4 136.0,94.6 136.5,92.9 137.0,91.2 137.6,89.6 138.3,88.0 139.0,86.5 139.8,85.0 140.7,83.6 141.6,82.4 142.7,81.2 143.9,80.2 145.1,79.3 146.5,78.5 147.9,77.9 149.4,77.4 150.9,77.1 152.5,76.9 154.1,76.9 155.7,77.0 157.4,77.2 159.0,77.5 160.7,78.0 162.3,78.4 163.9,79.0 165.5,79.5 167.1,80.2 168.7,80.8 170.2,81.5 171.7,82.3 173.2,83.1 174.7,83.9 176.2,84.7 177.7,85.6 179.2,86.4 180.6,87.3 182.1,88.2 183.5,89.1 185.0,90.0 186.4,90.9 187.9,91.7 189.3,92.6 190.8,93.5 192.2,94.3 193.7,95.1 195.2,96.0 196.6,96.8 198.1,97.6 199.5,98.4 201.0,99.2 202.4,100.0 203.9,100.9 205.3,101.7 206.8,102.5 208.2,103.4 209.6,104.2 211.0,105.1 212.4,105.9 213.8,106.8 215.2,107.7 216.6,108.6 218.0,109.6 219.4,110.5 220.7,111.5 222.1,112.5 223.4,113.5 224.7,114.6 226.0,115.7 227.3,116.8 228.6,117.9 229.8,119.1 231.1,120.3 232.2,121.4" stroke="#008000" stroke-width="1.6"/>
<path d="M85.2,473.2l2.0,2.4l-2.0,2.4l-2.0,-2.4zM85.6,472.0l2.0,2.4l-2.0,2.4l-2.0,-2.4zM86.0,470.7l2.0,2.4l-2.0,2.4l-2.0,-2.4zM86.3,469.4l2.0,2.4l-2.0,2.4l-2.0,-2.4zM86.7,468.1l2.0,2.4l-2.0,2.4l-2.0,-2.4zM87.1,466.6l2.0,2.4l-2.0,2.4l-2.0,-2.4zM87.4,465.2l2.0,2.4l-2.0,2.4l-2.0,-2.4zM87.8,463.6l2.0,2.4l-2.0,2.4l-2.0,-2.4zM88.2,462.0l2.0,2.4l-2.0,2.4l-2.0,-2.4zM88.5,460.3l2.0,2.4l-2.0,2.4l-2.0,-2.4zM88.9,458.5l2.0,2.4l-2.0,2.4l-2.0,-2.4zM89.3,456.7l2.0,2.4l-2.0,2.4l-2.0,-2.4zM89.5,455.7l2.0,2.4l-2.0,2.4l-2.0,-2.4zM89.6,454.7l2.0,2.4l-2.0,2.4l-2.0,-2.4zM89.8,453.6l2.0,2.4l-2.0,2.4l-2.0,-2.4zM90.0,452.5l2.0,2.4l-2.0,2.4l-2.0,-2.4zM90.2,451.4l2.0,2.4l-2.0,2.4l-2.0,-2.4zM90.4,450.3l2.0,2.4l-2.0,2.4l-2.0,-2.4zM90.6,449.1l2.0,2.4l-2.0,2.4l-2.0,-2.4zM90.8,447.9l2.0,2.4l-2.0,2.4l-2.0,-2.4zM90.9,446.6l2.0,2.4l-2.0,2.4l-2.0,-2.4zM91.1,445.3l2.0,2.4l-2.0,2.4l-2.0,-2.4zM91.3,443.9l2.0,2.4l-2.0,2.4l-2.0,-2.4zM91.5,442.5l2.0,2.4l-2.0,2.4l-2.0,-2.4zM91.7,441.1l2.0,2.4l-2.0,2.4l-2.0,-2.4zM91.9,439.5l2.0,2.4l-2.0,2.4l-2.0,-2.4zM92.0,438.0l2.0,2.4l-2.0,2.4l-2.0,-2.4zM92.2,436.4l2.0,2.4l-2.0,2.4l-2.0,-2.4zM92.4,434.7l2.0,2.4l-2.0,2.4l-2.0,-2.4zM92.6,433.0l2.0,2.4l-2.0,2.4l-2.0,-2.4zM92.8,431.2l2.0,2.4l-2.0,2.4l-2.0,-2.4zM93.0,429.4l2.0,2.4l-2.0,2.4l-2.0,-2.4zM93.2,427.6l2.0,2.4l-2.0,2.4l-2.0,-2.4zM93.3,425.7l2.0,2.4l-2.0,2.4l-2.0,-2.4zM93.5,423.8l2.0,2.4l-2.0,2.4l-2.0,-2.4zM93.7,421.9l2.0,2.4l-2.0,2.4l-2.0,-2.4zM93.9,420.0l2.0,2.4l-2.0,2.4l-2.0,-2.4zM94.1,418.2l2.0,2.4l-2.0,2.4l-2.0,-2.4zM94.3,416.3l2.0,2.4l-2.0,2.4l-2.0,-2.4zM94.4,414.5l2.0,2.4l-2.0,2.4l-2.0,-2.4zM94.6,412.7l2.0,2.4l-2.0,2.4l-2.0,-2.4zM94.8,410.9l2.0,2.4l-2.0,2.4l-2.0,-2.4zM95.0,409.1l2.0,2.4l-2.0,2.4l-2.0,-2.4zM95.2,407.3l2.0,2.4l-2.0,2.4l-2.0,-2.4zM95.4,405.5l2.0,2.4l-2.0,2.4l-2.0,-2.4zM95.6,403.8l2.0,2.4l-2.0,2.4l-2.0,-2.4zM95.7,402.0l2.0,2.4l-2.0,2.4l-2.0,-2.4zM95.9,400.3l2.0,2.4l-2.0,2.4l-2.0,-2.4zM96.1,398.5l2.0,2.4l-2.0,2.4l-2.0,-2.4zM96.3,396.8l2.0,2.4l-2.0,2.4l-2.0,-2.4zM96.5,395.1l2.0,2.4l-2.0,2.4l-2.0,-2.4zM96.7,393.3l2.0,2.4l-2.0,2.4l-2.0,-2.4zM96.8,391.6l2.0,2.4l-2.0,2.4l-2.0,-2.4zM97.0,389.9l2.0,2.4l-2.0,2.4l-2.0,-2.4zM97.2,388.2l2.0,2.4l-2.0,2.4l-2.0,-2.4zM97.4,386.5l2.0,2.4l-2.0,2.4l-2.0,-2.4zM97.6,384.8l2.0,2.4l-2.0,2.4l-2.0,-2.4zM97.8,383.0l2.0,2.4l-2.0,2.4l-2.0,-2.4zM98.0,381.3l2.0,2.4l-2.0,2.4l-2.0,-2.4zM98.1,379.6l2.0,2.4l-2.0,2.4l-2.0,-2.4zM98.3,377.9l2.0,2.4l-2.0,2.4l-2.0,-2.4zM98.5,376.2l2.0,2.4l-2.0,2.4l-2.0,-2.4zM98.7,374.4l2.0,2.4l-2.0,2.4l-2.0,-2.4zM98.9,372.7l2.0,2.4l-2.0,2.4l-2.0,-2.4zM99.1,371.0l2.0,2.4l-2.0,2.4l-2.0,-2.4zM99.2,369.2l2.0,2.4l-2.0,2.4l-2.0,-2.4zM99.4,367.5l2.0,2.4l-2.0,2.4l-2.0,-2.4zM99.6,365.7l2.0,2.4l-2.0,2.4l-2.0,-2.4zM99.8,364.0l2.0,2.4l-2.0,2.4l-2.0,-2.4zM100.0,362.2l2.0,2.4l-2.0,2.4l-2.0,-2.4zM100.2,360.4l2.0,2.4l-2.0,2.4l-2.0,-2.4zM100.4,358.7l2.0,2.4l-2.0,2.4l-2.0,-2.4zM100.5,356.9l2.0,2.4l-2.0,2.4l-2.0,-2.4zM100.7,355.0l2.0,2.4l-2.0,2.4l-2.0,-2.4zM100.9,353.2l2.0,2.4l-2.0,2.4l-2.0,-2.4zM101.1,351.4l2.0,2.4l-2.0,2.4l-2.0,-2.4zM101.3,349.5l2.0,2.4l-2.0,2.4l-2.0,-2.4zM101.5,347.7l2.0,2.4l-2.0,2.4l-2.0,-2.4zM101.6,345.8l2.0,2.4l-2.0,2.4l-2.0,-2.4zM101.8,344.0l2.0,2.4l-2.0,2.4l-2.0,-2.4zM102.0,342.1l2.0,2.4l-2.0,2.4l-2.0,-2.4zM102.2,340.2l2.0,2.4l-2.0,2.4l-2.0,-2.4zM102.4,338.3l2.0,2.4l-2.0,2.4l-2.0,-2.4zM102.6,336.4l2.0,2.4l-2.0,2.4l-2.0,-2.4zM102.8,334.4l2.0,2.4l-2.0,2.4l-2.0,-2.4zM102.9,332.5l2.0,2.4l-2.0,2.4l-2.0,-2.4zM103.1,330.6l2.0,2.4l-2.0,2.4l-2.0,-2.4zM103.3,328.6l2.0,2.4l-2.0,2.4l-2.0,-2.4zM103.5,326.7l2.0,2.4l-2.0,2.4l-2.0,-2.4zM103.7,324.7l2.0,2.4l-2.0,2.4l-2.0,-2.4zM103.9,322.8l2.0,2.4l-2.0,2.4l-2.0,-2.4zM104.0,320.8l2.0,2.4l-2.0,2.4l-2.0,-2.4zM104.2,318.9l2.0,2.4l-2.0,2.4l-2.0,-2.4zM104.4,316.9l2.0,2.4l-2.0,2.4l-2.0,-2.4zM104.6,314.9l2.0,2.4l-2.0,2.4l-2.0,-2.4zM104.8,313.0l2.0,2.4l-2.0,2.4l-2.0,-2.4zM105.0,311.0l2.0,2.4l-2.0,2.4l-2.0,-2.4zM105.2,309.0l2.0,2.4l-2.0,2.4l-2.0,-2.4zM105.3,307.1l2.0,2.4l-2.0,2.4l-2.0,-2.4zM105.5,305.1l2.0,2.4l-2.0,2.4l-2.0,-2.4zM105.7,303.1l2.0,2.4l-2.0,2.4l-2.0,-2.4zM105.9,301.1l2.0,2.4l-2.0,2.4l-2.0,-2.4zM106.1,299.2l2.0,2.4l-2.0,2.4l-2.0,-2.4zM106.3,297.2l2.0,2.4l-2.0,2.4l-2.0,-2.4zM106.4,295.3l2.0,2.4l-2.0,2.4l-2.0,-2.4zM106.6,293.3l2.0,2.4l-2.0,2.4l-2.0,-2.4zM106.8,291.4l2.0,2.4l-2.0,2.4l-2.0,-2.4zM107.0,289.4l2.0,2.4l-2.0,2.4l-2.0,-2.4zM107.2,287.5l2.0,2.4l-2.0,2.4l-2.0,-2.4zM107.4,285.6l2.0,2.4l-2.0,2.4l-2.0,-2.4zM107.6,283.6l2.0,2.4l-2.0,2.4l-2.0,-2.4zM107.7,281.7l2.0,2.4l-2.0,2.4l-2.0,-2.4zM107.9,279.8l2.0,2.4l-2.0,2.4l-2.0,-2.4zM108.1,277.9l2.0,2.4l-2.0,2.4l-2.0,-2.4zM108.3,276.0l2.0,2.4l-2.0,2.4l-2.0,-2.4zM108.5,274.2l2.0,2.4l-2.0,2.4l-2.0,-2.4zM108.7,272.3l2.0,2.4l-2.0,2.4l-2.0,-2.4zM108.8,270.4l2.0,2.4l-2.0,2.4l-2.0,-2.4zM109.0,268.6l2.0,2.4l-2.0,2.4l-2.0,-2.4zM109.2,266.8l2.0,2.4l-2.0,2.4l-2.0,-2.4zM109.4,264.9l2.0,2.4l-2.0,2.4l-2.0,-2.4zM109.6,263.1l2.0,2.4l-2.0,2.4l-2.0,-2.4zM109.8,261.3l2.0,2.4l-2.0,2.4l-2.0,-2.4zM110.0,259.5l2.0,2.4l-2.0,2.4l-2.0,-2.4zM110.1,257.8l2.0,2.4l-2.0,2.4l-2.0,-2.4zM110.3,256.0l2.0,2.4l-2.0,2.4l-2.0,-2.4zM110.5,254.2l2.0,2.4l-2.0,2.4l-2.0,-2.4zM110.7,252.5l2.0,2.4l-2.0,2.4l-2.0,-2.4zM110.9,250.8l2.0,2.4l-2.0,2.4l-2.0,-2.4zM111.1,249.1l2.0,2.4l-2.0,2.4l-2.0,-2.4zM111.2,247.4l2.0,2.4l-2.0,2.4l-2.0,-2.4zM111.4,245.7l2.0,2.4l-2.0,2.4l-2.0,-2.4zM111.6,244.0l2.0,2.4l-2.0,2.4l-2.0,-2.4zM111.8,242.3l2.0,2.4l-2.0,2.4l-2.0,-2.4zM112.0,240.7l2.0,2.4l-2.0,2.4l-2.0,-2.4zM112.2,239.0l2.0,2.4l-2.0,2.4l-2.0,-2.4zM112.4,237.4l2.0,2.4l-2.0,2.4l-2.0,-2.4zM112.5,235.8l2.0,2.4l-2.0,2.4l-2.0,-2.4zM112.7,234.2l2.0,2.4l-2.0,2.4l-2.0,-2.4zM112.9,232.6l2.0,2.4l-2.0,2.4l-2.0,-2.4zM113.1,231.0l2.0,2.4l-2.0,2.4l-2.0,-2.4zM113.3,229.5l2.0,2.4l-2.0,2.4l-2.0,-2.4zM113.5,227.9l2.0,2.4l-2.0,2.4l-2.0,-2.4zM113.6,226.3l2.0,2.4l-2.0,2.4l-2.0,-2.4zM113.8,224.8l2.0,2.4l-2.0,2.4l-2.0,-2.4zM114.0,223.3l2.0,2.4l-2.0,2.4l-2.0,-2.4zM114.2,221.8l2.0,2.4l-2.0,2.4l-2.0,-2.4zM114.4,220.3l2.0,2.4l-2.0,2.4l-2.0,-2.4zM114.6,218.8l2.0,2.4l-2.0,2.4l-2.0,-2.4zM114.8,217.3l2.0,2.4l-2.0,2.4l-2.0,-2.4zM114.9,215.8l2.0,2.4l-2.0,2.4l-2.0,-2.4zM115.1,214.3l2.0,2.4l-2.0,2.4l-2.0,-2.4zM115.3,212.9l2.0,2.4l-2.0,2.4l-2.0,-2.4zM115.5,211.4l2.0,2.4l-2.0,2.4l-2.0,-2.4zM115.7,210.0l2.0,2.4l-2.0,2.4l-2.0,-2.4zM115.9,208.6l2.0,2.4l-2.0,2.4l-2.0,-2.4zM116.0,207.2l2.0,2.4l-2.0,2.4l-2.0,-2.4zM116.2,205.7l2.0,2.4l-2.0,2.4l-2.0,-2.4zM116.4,204.3l2.0,2.4l-2.0,2.4l-2.0,-2.4zM116.6,202.9l2.0,2.4l-2.0,2.4l-2.0,-2.4zM116.8,201.6l2.0,2.4l-2.0,2.4l-2.0,-2.4zM117.0,200.2l2.0,2.4l-2.0,2.4l-2.0,-2.4zM117.2,198.8l2.0,2.4l-2.0,2.4l-2.0,-2.4zM117.3,197.5l2.0,2.4l-2.0,2.4l-2.0,-2.4zM117.5,196.1l2.0,2.4l-2.0,2.4l-2.0,-2.4zM117.7,194.8l2.0,2.4l-2.0,2.4l-2.0,-2.4zM117.9,193.4l2.0,2.4l-2.0,2.4l-2.0,-2.4zM118.1,192.1l2.0,2.4l-2.0,2.4l-2.0,-2.4zM118.3,190.8l2.0,2.4l-2.0,2.4l-2.0,-2.4zM118.4,189.5l2.0,2.4l-2.0,2.4l-2.0,-2.4zM118.6,188.2l2.0,2.4l-2.0,2.4l-2.0,-2.4zM118.8,186.9l2.0,2.4l-2.0,2.4l-2.0,-2.4zM119.0,185.6l2.0,2.4l-2.0,2.4l-2.0,-2.4zM119.2,184.3l2.0,2.4l-2.0,2.4l-2.0,-2.4zM119.4,183.0l2.0,2.4l-2.0,2.4l-2.0,-2.4zM119.6,181.8l2.0,2.4l-2.0,2.4l-2.0,-2.4zM119.7,180.5l2.0,2.4l-2.0,2.4l-2.0,-2.4zM119.9,179.3l2.0,2.4l-2.0,2.4l-2.0,-2.4zM120.1,178.0l2.0,2.4l-2.0,2.4l-2.0,-2.4zM120.3,176.8l2.0,2.4l-2.0,2.4l-2.0,-2.4zM120.5,175.6l2.0,2.4l-2.0,2.4l-2.0,-2.4zM120.7,174.3l2.0,2.4l-2.0,2.4l-2.0,-2.4zM120.8,173.1l2.0,2.4l-2.0,2.4l-2.0,-2.4zM121.0,171.9l2.0,2.4l-2.0,2.4l-2.0,-2.4zM121.2,170.7l2.0,2.4l-2.0,2.4l-2.0,-2.4zM121.4,169.5l2.0,2.4l-2.0,2.4l-2.0,-2.4zM121.6,168.3l2.0,2.4l-2.0,2.4l-2.0,-2.4zM121.8,167.1l2.0,2.4l-2.0,2.4l-2.0,-2.4zM122.0,166.0l2.0,2.4l-2.0,2.4l-2.0,-2.4zM122.1,164.8l2.0,2.4l-2.0,2.4l-2.0,-2.4zM122.3,163.6l2.0,2.4l-2.0,2.4l-2.0,-2.4zM122.5,162.5l2.0,2.4l-2.0,2.4l-2.0,-2.4zM122.7,161.3l2.0,2.4l-2.0,2.4l-2.0,-2.4zM122.9,160.2l2.0,2.4l-2.0,2.4l-2.0,-2.4zM123.1,159.0l2.0,2.4l-2.0,2.4l-2.0,-2.4zM123.2,157.9l2.0,2.4l-2.0,2.4l-2.0,-2.4zM123.4,156.7l2.0,2.4l-2.0,2.4l-2.0,-2.4zM123.6,155.6l2.0,2.4l-2.0,2.4l-2.0,-2.4zM123.8,154.5l2.0,2.4l-2.0,2.4l-2.0,-2.4zM124.0,153.4l2.0,2.4l-2.0,2.4l-2.0,-2.4zM124.2,152.3l2.0,2.4l-2.0,2.4l-2.0,-2.4zM124.4,151.2l2.0,2.4l-2.0,2.4l-2.0,-2.4zM124.5,150.1l2.0,2.4l-2.0,2.4l-2.0,-2.4zM124.7,149.0l2.0,2.4l-2.0,2.4l-2.0,-2.4zM124.9,147.9l2.0,2.4l-2.0,2.4l-2.0,-2.4zM125.1,146.8l2.0,2.4l-2.0,2.4l-2.0,-2.4zM125.3,145.7l2.0,2.4l-2.0,2.4l-2.0,-2.4zM125.5,144.7l2.0,2.4l-2.0,2.4l-2.0,-2.4zM125.6,143.6l2.0,2.4l-2.0,2.4l-2.0,-2.4zM125.8,142.5l2.0,2.4l-2.0,2.4l-2.0,-2.4zM126.0,141.5l2.0,2.4l-2.0,2.4l-2.0,-2.4zM126.2,140.4l2.0,2.4l-2.0,2.4l-2.0,-2.4zM126.4,139.4l2.0,2.4l-2.0,2.4l-2.0,-2.4zM126.6,138.3l2.0,2.4l-2.0,2.4l-2.0,-2.4zM126.8,137.3l2.0,2.4l-2.0,2.4l-2.0,-2.4zM126.9,136.3l2.0,2.4l-2.0,2.4l-2.0,-2.4zM127.1,135.2l2.0,2.4l-2.0,2.4l-2.0,-2.4zM127.3,134.2l2.0,2.4l-2.0,2.4l-2.0,-2.4zM127.5,133.2l2.0,2.4l-2.0,2.4l-2.0,-2.4zM127.7,132.2l2.0,2.4l-2.0,2.4l-2.0,-2.4zM127.9,131.2l2.0,2.4l-2.0,2.4l-2.0,-2.4zM128.0,130.2l2.0,2.4l-2.0,2.4l-2.0,-2.4zM128.2,129.2l2.0,2.4l-2.0,2.4l-2.0,-2.4zM128.4,128.2l2.0,2.4l-2.0,2.4l-2.0,-2.4zM128.6,127.2l2.0,2.4l-2.0,2.4l-2.0,-2.4zM128.8,126.2l2.0,2.4l-2.0,2.4l-2.0,-2.4zM129.0,125.2l2.0,2.4l-2.0,2.4l-2.0,-2.4zM129.3,123.3l2.0,2.4l-2.0,2.4l-2.0,-2.4zM129.7,121.3l2.0,2.4l-2.0,2.4l-2.0,-2.4zM130.1,119.4l2.0,2.4l-2.0,2.4l-2.0,-2.4zM130.4,117.5l2.0,2.4l-2.0,2.4l-2.0,-2.4zM130.8,115.6l2.0,2.4l-2.0,2.4l-2.0,-2.4zM131.2,113.7l2.0,2.4l-2.0,2.4l-2.0,-2.4zM131.6,111.9l2.0,2.4l-2.0,2.4l-2.0,-2.4zM131.9,110.0l2.0,2.4l-2.0,2.4l-2.0,-2.4zM132.3,108.2l2.0,2.4l-2.0,2.4l-2.0,-2.4zM132.7,106.4l2.0,2.4l-2.0,2.4l-2.0,-2.4zM133.0,104.7l2.0,2.4l-2.0,2.4l-2.0,-2.4zM133.4,103.0l2.0,2.4l-2.0,2.4l-2.0,-2.4zM133.8,101.3l2.0,2.4l-2.0,2.4l-2.0,-2.4zM134.1,99.7l2.0,2.4l-2.0,2.4l-2.0,-2.4zM134.5,98.1l2.0,2.4l-2.0,2.4l-2.0,-2.4zM134.9,96.6l2.0,2.4l-2.0,2.4l-2.0,-2.4zM135.2,95.1l2.0,2.4l-2.0,2.4l-2.0,-2.4zM135.6,93.6l2.0,2.4l-2.0,2.4l-2.0,-2.4zM136.0,92.3l2.0,2.4l-2.0,2.4l-2.0,-2.4zM136.4,91.0l2.0,2.4l-2.0,2.4l-2.0,-2.4zM136.7,89.8l2.0,2.4l-2.0,2.4l-2.0,-2.4zM137.1,88.7l2.0,2.4l-2.0,2.4l-2.0,-2.4zM137.5,87.6l2.0,2.4l-2.0,2.4l-2.0,-2.4zM137.8,86.7l2.0,2.4l-2.0,2.4l-2.0,-2.4zM138.4,85.3l2.0,2.4l-2.0,2.4l-2.0,-2.4zM138.9,84.2l2.0,2.4l-2.0,2.4l-2.0,-2.4zM139.5,83.1l2.0,2.4l-2.0,2.4l-2.0,-2.4zM140.0,82.2l2.0,2.4l-2.0,2.4l-2.0,-2.4zM140.6,81.3l2.0,2.4l-2.0,2.4l-2.0,-2.4zM141.3,80.3l2.0,2.4l-2.0,2.4l-2.0,-2.4zM142.1,79.4l2.0,2.4l-2.0,2.4l-2.0,-2.4zM142.8,78.7l2.0,2.4l-2.0,2.4l-2.0,-2.4zM143.7,77.9l2.0,2.4l-2.0,2.4l-2.0,-2.4zM144.7,77.2l2.0,2.4l-2.0,2.4l-2.0,-2.4zM145.6,76.6l2.0,2.4l-2.0,2.4l-2.0,-2.4zM146.5,76.1l2.0,2.4l-2.0,2.4l-2.0,-2.4zM147.4,75.6l2.0,2.4l-2.0,2.4l-2.0,-2.4zM148.5,75.2l2.0,2.4l-2.0,2.4l-2.0,-2.4zM149.6,74.9l2.0,2.4l-2.0,2.4l-2.0,-2.4zM150.8,74.7l2.0,2.4l-2.0,2.4l-2.0,-2.4zM151.9,74.5l2.0,2.4l-2.0,2.4l-2.0,-2.4zM153.0,74.5l2.0,2.4l-2.0,2.4l-2.0,-2.4zM154.1,74.5l2.0,2.4l-2.0,2.4l-2.0,-2.4zM155.2,74.5l2.0,2.4l-2.0,2.4l-2.0,-2.4zM156.3,74.6l2.0,2.4l-2.0,2.4l-2.0,-2.4zM157.4,74.8l2.0,2.4l-2.0,2.4l-2.0,-2.4zM158.5,75.0l2.0,2.4l-2.0,2.4l-2.0,-2.4zM159.6,75.3l2.0,2.4l-2.0,2.4l-2.0,-2.4zM160.7,75.5l2.0,2.4l-2.0,2.4l-2.0,-2.4zM161.8,75.9l2.0,2.4l-2.0,2.4l-2.0,-2.4zM162.9,76.2l2.0,2.4l-2.0,2.4l-2.0,-2.4zM164.0,76.6l2.0,2.4l-2.0,2.4l-2.0,-2.4zM165.1,77.0l2.0,2.4l-2.0,2.4l-2.0,-2.4zM166.3,77.4l2.0,2.4l-2.0,2.4l-2.0,-2.4zM167.4,77.9l2.0,2.4l-2.0,2.4l-2.0,-2.4zM168.3,78.2l2.0,2.4l-2.0,2.4l-2.0,-2.4zM169.2,78.7l2.0,2.4l-2.0,2.4l-2.0,-2.4zM170.1,79.1l2.0,2.4l-2.0,2.4l-2.0,-2.4zM171.1,79.5l2.0,2.4l-2.0,2.4l-2.0,-2.4zM172.0,80.0l2.0,2.4l-2.0,2.4l-2.0,-2.4zM172.9,80.5l2.0,2.4l-2.0,2.4l-2.0,-2.4zM173.8,81.0l2.0,2.4l-2.0,2.4l-2.0,-2.4zM174.7,81.5l2.0,2.4l-2.0,2.4l-2.0,-2.4zM175.7,82.0l2.0,2.4l-2.0,2.4l-2.0,-2.4zM176.6,82.5l2.0,2.4l-2.0,2.4l-2.0,-2.4zM177.5,83.0l2.0,2.4l-2.0,2.4l-2.0,-2.4zM178.4,83.6l2.0,2.4l-2.0,2.4l-2.0,-2.4zM179.4,84.1l2.0,2.4l-2.0,2.4l-2.0,-2.4zM180.3,84.7l2.0,2.4l-2.0,2.4l-2.0,-2.4zM181.2,85.2l2.0,2.4l-2.0,2.4l-2.0,-2.4zM182.1,85.8l2.0,2.4l-2.0,2.4l-2.0,-2.4zM183.1,86.4l2.0,2.4l-2.0,2.4l-2.0,-2.4zM184.0,86.9l2.0,2.4l-2.0,2.4l-2.0,-2.4zM184.9,87.5l2.0,2.4l-2.0,2.4l-2.0,-2.4zM185.8,88.1l2.0,2.4l-2.0,2.4l-2.0,-2.4zM186.7,88.6l2.0,2.4l-2.0,2.4l-2.0,-2.4zM187.7,89.2l2.0,2.4l-2.0,2.4l-2.0,-2.4zM188.6,89.7l2.0,2.4l-2.0,2.4l-2.0,-2.4zM189.5,90.3l2.0,2.4l-2.0,2.4l-2.0,-2.4zM190.4,90.8l2.0,2.4l-2.0,2.4l-2.0,-2.4zM191.4,91.4l2.0,2.4l-2.0,2.4l-2.0,-2.4zM192.3,91.9l2.0,2.4l-2.0,2.4l-2.0,-2.4zM193.2,92.4l2.0,2.4l-2.0,2.4l-2.0,-2.4zM194.1,93.0l2.0,2.4l-2.0,2.4l-2.0,-2.4zM195.1,93.5l2.0,2.4l-2.0,2.4l-2.0,-2.4zM196.0,94.0l2.0,2.4l-2.0,2.4l-2.0,-2.4zM196.9,94.5l2.0,2.4l-2.0,2.4l-2.0,-2.4zM197.8,95.0l2.0,2.4l-2.0,2.4l-2.0,-2.4zM198.7,95.6l2.0,2.4l-2.0,2.4l-2.0,-2.4zM199.7,96.1l2.0,2.4l-2.0,2.4l-2.0,-2.4zM200.6,96.6l2.0,2.4l-2.0,2.4l-2.0,-2.4zM201.5,97.1l2.0,2.4l-2.0,2.4l-2.0,-2.4zM202.4,97.6l2.0,2.4l-2.0,2.4l-2.0,-2.4zM203.4,98.2l2.0,2.4l-2.0,2.4l-2.0,-2.4zM204.3,98.7l2.0,2.4l-2.0,2.4l-2.0,-2.4zM205.2,99.2l2.0,2.4l-2.0,2.4l-2.0,-2.4zM206.1,99.7l2.0,2.4l-2.0,2.4l-2.0,-2.4zM207.1,100.3l2.0,2.4l-2.0,2.4l-2.0,-2.4zM208.0,100.8l2.0,2.4l-2.0,2.4l-2.0,-2.4zM208.9,101.4l2.0,2.4l-2.0,2.4l-2.0,-2.4zM209.8,101.9l2.0,2.4l-2.0,2.4l-2.0,-2.4zM210.7,102.5l2.0,2.4l-2.0,2.4l-2.0,-2.4zM211.7,103.0l2.0,2.4l-2.0,2.4l-2.0,-2.4zM212.6,103.6l2.0,2.4l-2.0,2.4l-2.0,-2.4zM213.5,104.2l2.0,2.4l-2.0,2.4l-2.0,-2.4zM214.4,104.8l2.0,2.4l-2.0,2.4l-2.0,-2.4zM215.4,105.4l2.0,2.4l-2.0,2.4l-2.0,-2.4zM216.3,106.0l2.0,2.4l-2.0,2.4l-2.0,-2.4zM217.2,106.6l2.0,2.4l-2.0,2.4l-2.0,-2.4zM218.1,107.2l2.0,2.4l-2.0,2.4l-2.0,-2.4zM219.1,107.9l2.0,2.4l-2.0,2.4l-2.0,-2.4zM220.0,108.5l2.0,2.4l-2.0,2.4l-2.0,-2.4zM220.9,109.2l2.0,2.4l-2.0,2.4l-2.0,-2.4zM221.8,109.9l2.0,2.4l-2.0,2.4l-2.0,-2.4zM222.7,110.6l2.0,2.4l-2.0,2.4l-2.0,-2.4zM223.7,111.3l2.0,2.4l-2.0,2.4l-2.0,-2.4zM224.6,112.1l2.0,2.4l-2.0,2.4l-2.0,-2.4zM225.5,112.8l2.0,2.4l-2.0,2.4l-2.0,-2.4zM226.4,113.6l2.0,2.4l-2.0,2.4l-2.0,-2.4zM227.4,114.4l2.0,2.4l-2.0,2.4l-2.0,-2.4zM228.3,115.2l2.0,2.4l-2.0,2.4l-2.0,-2.4zM229.0,115.9l2.0,2.4l-2.0,2.4l-2.0,-2.4zM229.8,116.6l2.0,2.4l-2.0,2.4l-2.0,-2.4zM230.5,117.3l2.0,2.4l-2.0,2.4l-2.0,-2.4zM231.2,118.1l2.0,2.4l-2.0,2.4l-2.0,-2.4zM232.0,118.8l2.0,2.4l-2.0,2.4l-2.0,-2.4z" fill="#008000"/>
<polyline points="85.4,475.7 85.8,473.9 86.2,472.2 86.6,470.4 86.9,468.7 87.3,466.9 87.7,465.2 88.0,463.4 88.4,461.6 88.7,459.9 89.0,458.1 89.3,456.4 89.6,454.6 89.9,452.9 90.2,451.1 90.5,449.4 90.8,447.6 91.1,445.8 91.4,444.1 91.6,442.3 91.9,440.5 92.1,438.8 92.4,437.0 92.6,435.3 92.9,433.5 93.1,431.7 93.3,430.0 93.6,428.2 93.8,426.4 94.0,424.7 94.2,422.9 94.4,421.1 94.6,419.4 94.8,417.6 95.0,415.8 95.2,414.0 95.4,412.3 95.5,410.5 95.7,408.7 95.9,407.0 96.1,405.2 96.2,403.4 96.4,401.6 96.6,399.9 96.7,398.1 96.9,396.3 97.1,394.5 97.2,392.8 97.4,391.0 97.5,389.2 97.7,387.4 97.8,385.7 98.0,383.9 98.1,382.1 98.3,380.3 98.4,378.6 98.6,376.8 98.7,375.0 98.9,373.2 99.1,371.4 99.2,369.7 99.4,367.9 99.5,366.1 99.7,364.3 99.8,362.6 100.0,360.8 100.1,359.0 100.3,357.2 100.4,355.4 100.6,353.7 100.8,351.9 100.9,350.1 101.1,348.3 101.3,346.5 101.4,344.8 101.6,343.0 101.8,341.2 101.9,339.4 102.1,337.6 102.3,335.9 102.5,334.1 102.6,332.3 102.8,330.5 103.0,328.8 103.2,327.0 103.3,325.2 103.5,323.4 103.7,321.6 103.9,319.9 104.1,318.1 104.2,316.3 104.4,314.5 104.6,312.7 104.8,311.0 105.0,309.2 105.2,307.4 105.3,305.6 105.5,303.8 105.7,302.1 105.9,300.3 106.1,298.5 106.3,296.7 106.5,294.9 106.7,293.2 106.8,291.4 107.0,289.6 107.2,287.8 107.4,286.1 107.6,284.3 107.8,282.5 108.0,280.7 108.2,278.9 108.4,277.2 108.6,275.4 108.7,273.6 108.9,271.8 109.1,270.1 109.3,268.3 109.5,266.5 109.7,264.7 109.9,263.0 110.1,261.2 110.3,259.4 110.5,257.6 110.7,255.9 110.8,254.1 111.0,252.3 111.2,250.5 111.4,248.8 111.6,247.0 111.8,245.2 112.0,243.4 112.2,241.7 112.3,239.9 112.5,238.1 112.7,236.3 112.9,234.6 113.1,232.8 113.3,231.0 113.4,229.3 113.6,227.5 113.8,225.7 114.0,223.9 114.2,222.2 114.3,220.4 114.5,218.6 114.7,216.9 114.9,215.1 115.0,213.3 115.2,211.5 115.4,209.8 115.6,208.0 115.8,206.2 115.9,204.5 116.1,202.7 116.3,200.9 116.5,199.2 116.6,197.4 116.8,195.6 117.0,193.9 117.2,192.1 117.4,190.3 117.5,188.6 117.7,186.8 117.9,185.0 118.1,183.3 118.3,181.5 118.5,179.7 118.7,178.0 118.8,176.2 119.0,174.4 119.2,172.7 119.4,170.9 119.6,169.1 119.8,167.4 120.0,165.6 120.2,163.8 120.4,162.1 120.7,160.3 120.9,158.5 121.1,156.8 121.3,155.0 121.5,153.2 121.7,151.5 122.0,149.7 122.2,147.9 122.4,146.2 122.7,144.4 122.9,142.6 123.2,140.9 123.4,139.1 123.7,137.3 123.9,135.6 124.2,133.8 124.4,132.0 124.7,130.3 125.0,128.5 125.3,126.7 125.5,125.0 125.8,123.2 126.1,121.4 126.4,119.6 126.7,117.9 127.0,116.1 127.3,114.3 127.6,112.6 127.9,110.8 128.3,109.0 128.6,107.2 128.9,105.5 129.3,103.7 129.6,101.9 130.0,100.2 130.3,98.4 130.7,96.6 131.1,94.8 131.4,93.1 131.8,91.3 132.2,89.5 132.6,87.7 133.0,86.0 133.4,84.2 133.8,82.4 134.3,80.7 134.7,78.9 135.3,77.2 135.8,75.5 136.4,73.8 137.0,72.2 137.7,70.6 138.5,69.0 139.3,67.5 140.3,66.0 141.3,64.6 142.4,63.3 143.5,62.0 144.8,60.9 146.2,59.8 147.7,58.8 149.2,58.0 150.7,57.3 152.4,56.8 154.0,56.5 155.7,56.3 157.4,56.4 159.1,56.6 160.8,56.9 162.5,57.5 164.2,58.1 165.8,58.9 167.4,59.8 169.0,60.7 170.5,61.8 172.0,62.8 173.5,64.0 174.9,65.1 176.3,66.2 177.7,67.4 179.0,68.6 180.4,69.8 181.7,71.0 183.0,72.2 184.2,73.5 185.5,74.7 186.7,76.0 188.0,77.3 189.2,78.6 190.4,79.9 191.6,81.2 192.8,82.5 194.0,83.8 195.3,85.1 196.5,86.4 197.7,87.7 198.9,89.0 200.1,90.2 201.4,91.5 202.6,92.8 203.9,94.1 205.2,95.3 206.4,96.6 207.7,97.8 209.0,99.1 210.3,100.3 211.6,101.5 212.9,102.7 214.3,103.9 215.6,105.1 216.9,106.3 218.3,107.5 219.7,108.6 221.0,109.8 222.4,110.9 223.8,112.1 225.2,113.2 226.5,114.3 227.9,115.4 229.4,116.5 230.8,117.5 232.2,118.6 233.5,119.5" stroke="#000080" stroke-width="1.6"/>
<path d="M82.9,475.7l4.3,-2.4v4.8zM83.2,474.0l4.3,-2.4v4.8zM83.6,472.4l4.3,-2.4v4.8zM84.0,470.7l4.3,-2.4v4.8zM84.3,469.0l4.3,-2.4v4.8zM84.7,467.2l4.3,-2.4v4.8zM85.1,465.4l4.3,-2.4v4.8zM85.5,463.6l4.3,-2.4v4.8zM85.8,461.7l4.3,-2.4v4.8zM86.2,459.8l4.3,-2.4v4.8zM86.4,458.8l4.3,-2.4v4.8zM86.6,457.8l4.3,-2.4v4.8zM86.7,456.8l4.3,-2.4v4.8zM86.9,455.7l4.3,-2.4v4.8zM87.1,454.7l4.3,-2.4v4.8zM87.3,453.6l4.3,-2.4v4.8zM87.5,452.5l4.3,-2.4v4.8zM87.7,451.5l4.3,-2.4v4.8zM87.9,450.3l4.3,-2.4v4.8zM88.0,449.2l4.3,-2.4v4.8zM88.2,448.1l4.3,-2.4v4.8zM88.4,446.9l4.3,-2.4v4.8zM88.6,445.8l4.3,-2.4v4.8zM88.8,444.6l4.3,-2.4v4.8zM89.0,443.3l4.3,-2.4v4.8zM89.1,442.1l4.3,-2.4v4.8zM89.3,440.9l4.3,-2.4v4.8zM89.5,439.6l4.3,-2.4v4.8zM89.7,438.3l4.3,-2.4v4.8zM89.9,437.0l4.3,-2.4v4.8zM90.1,435.6l4.3,-2.4v4.8zM90.3,434.3l4.3,-2.4v4.8zM90.4,432.9l4.3,-2.4v4.8zM90.6,431.5l4.3,-2.4v4.8zM90.8,430.0l4.3,-2.4v4.8zM91.0,428.6l4.3,-2.4v4.8zM91.2,427.1l4.3,-2.4v4.8zM91.4,425.6l4.3,-2.4v4.8zM91.5,424.0l4.3,-2.4v4.8zM91.7,422.4l4.3,-2.4v4.8zM91.9,420.8l4.3,-2.4v4.8zM92.1,419.2l4.3,-2.4v4.8zM92.3,417.5l4.3,-2.4v4.8zM92.5,415.8l4.3,-2.4v4.8zM92.7,414.1l4.3,-2.4v4.8zM92.8,412.3l4.3,-2.4v4.8zM93.0,410.6l4.3,-2.4v4.8zM93.2,408.7l4.3,-2.4v4.8zM93.4,406.9l4.3,-2.4v4.8zM93.6,405.0l4.3,-2.4v4.8zM93.8,403.1l4.3,-2.4v4.8zM93.9,401.1l4.3,-2.4v4.8zM94.1,399.1l4.3,-2.4v4.8zM94.3,397.1l4.3,-2.4v4.8zM94.5,395.1l4.3,-2.4v4.8zM94.7,393.0l4.3,-2.4v4.8zM94.9,390.9l4.3,-2.4v4.8zM95.1,388.8l4.3,-2.4v4.8zM95.2,386.7l4.3,-2.4v4.8zM95.4,384.5l4.3,-2.4v4.8zM95.6,382.4l4.3,-2.4v4.8zM95.8,380.2l4.3,-2.4v4.8zM96.0,378.0l4.3,-2.4v4.8zM96.2,375.8l4.3,-2.4v4.8zM96.3,373.6l4.3,-2.4v4.8zM96.5,371.5l4.3,-2.4v4.8zM96.7,369.3l4.3,-2.4v4.8zM96.9,367.1l4.3,-2.4v4.8zM97.1,365.0l4.3,-2.4v4.8zM97.3,362.8l4.3,-2.4v4.8zM97.5,360.7l4.3,-2.4v4.8zM97.6,358.6l4.3,-2.4v4.8zM97.8,356.6l4.3,-2.4v4.8zM98.0,354.5l4.3,-2.4v4.8zM98.2,352.5l4.3,-2.4v4.8zM98.4,350.5l4.3,-2.4v4.8zM98.6,348.5l4.3,-2.4v4.8zM98.7,346.5l4.3,-2.4v4.8zM98.9,344.5l4.3,-2.4v4.8zM99.1,342.6l4.3,-2.4v4.8zM99.3,340.6l4.3,-2.4v4.8zM99.5,338.7l4.3,-2.4v4.8zM99.7,336.8l4.3,-2.4v4.8zM99.9,334.9l4.3,-2.4v4.8zM100.0,333.0l4.3,-2.4v4.8zM100.2,331.1l4.3,-2.4v4.8zM100.4,329.3l4.3,-2.4v4.8zM100.6,327.4l4.3,-2.4v4.8zM100.8,325.6l4.3,-2.4v4.8zM101.0,323.7l4.3,-2.4v4.8zM101.1,321.9l4.3,-2.4v4.8zM101.3,320.1l4.3,-2.4v4.8zM101.5,318.3l4.3,-2.4v4.8zM101.7,316.5l4.3,-2.4v4.8zM101.9,314.7l4.3,-2.4v4.8zM102.1,312.9l4.3,-2.4v4.8zM102.3,311.1l4.3,-2.4v4.8zM102.4,309.3l4.3,-2.4v4.8zM102.6,307.6l4.3,-2.4v4.8zM102.8,305.8l4.3,-2.4v4.8zM103.0,304.0l4.3,-2.4v4.8zM103.2,302.3l4.3,-2.4v4.8zM103.4,300.5l4.3,-2.4v4.8zM103.5,298.8l4.3,-2.4v4.8zM103.7,297.0l4.3,-2.4v4.8zM103.9,295.3l4.3,-2.4v4.8zM104.1,293.5l4.3,-2.4v4.8zM104.3,291.8l4.3,-2.4v4.8zM104.5,290.1l4.3,-2.4v4.8zM104.7,288.3l4.3,-2.4v4.8zM104.8,286.6l4.3,-2.4v4.8zM105.0,284.9l4.3,-2.4v4.8zM105.2,283.2l4.3,-2.4v4.8zM105.4,281.4l4.3,-2.4v4.8zM105.6,279.7l4.3,-2.4v4.8zM105.8,278.0l4.3,-2.4v4.8zM105.9,276.3l4.3,-2.4v4.8zM106.1,274.6l4.3,-2.4v4.8zM106.3,272.8l4.3,-2.4v4.8zM106.5,271.1l4.3,-2.4v4.8zM106.7,269.4l4.3,-2.4v4.8zM106.9,267.7l4.3,-2.4v4.8zM107.1,266.0l4.3,-2.4v4.8zM107.2,264.2l4.3,-2.4v4.8zM107.4,262.5l4.3,-2.4v4.8zM107.6,260.8l4.3,-2.4v4.8zM107.8,259.1l4.3,-2.4v4.8zM108.0,257.3l4.3,-2.4v4.8zM108.2,255.6l4.3,-2.4v4.8zM108.3,253.9l4.3,-2.4v4.8zM108.5,252.1l4.3,-2.4v4.8zM108.7,250.4l4.3,-2.4v4.8zM108.9,248.7l4.3,-2.4v4.8zM109.1,246.9l4.3,-2.4v4.8zM109.3,245.2l4.3,-2.4v4.8zM109.5,243.4l4.3,-2.4v4.8zM109.6,241.7l4.3,-2.4v4.8zM109.8,239.9l4.3,-2.4v4.8zM110.0,238.1l4.3,-2.4v4.8zM110.2,236.3l4.3,-2.4v4.8zM110.4,234.6l4.3,-2.4v4.8zM110.6,232.8l4.3,-2.4v4.8zM110.7,231.0l4.3,-2.4v4.8zM110.9,229.2l4.3,-2.4v4.8zM111.1,227.4l4.3,-2.4v4.8zM111.3,225.6l4.3,-2.4v4.8zM111.5,223.8l4.3,-2.4v4.8zM111.7,221.9l4.3,-2.4v4.8zM111.9,220.1l4.3,-2.4v4.8zM112.0,218.3l4.3,-2.4v4.8zM112.2,216.4l4.3,-2.4v4.8zM112.4,214.6l4.3,-2.4v4.8zM112.6,212.7l4.3,-2.4v4.8zM112.8,210.9l4.3,-2.4v4.8zM113.0,209.0l4.3,-2.4v4.8zM113.1,207.1l4.3,-2.4v4.8zM113.3,205.3l4.3,-2.4v4.8zM113.5,203.4l4.3,-2.4v4.8zM113.7,201.6l4.3,-2.4v4.8zM113.9,199.8l4.3,-2.4v4.8zM114.1,197.9l4.3,-2.4v4.8zM114.3,196.1l4.3,-2.4v4.8zM114.4,194.3l4.3,-2.4v4.8zM114.6,192.4l4.3,-2.4v4.8zM114.8,190.6l4.3,-2.4v4.8zM115.0,188.8l4.3,-2.4v4.8zM115.2,187.1l4.3,-2.4v4.8zM115.4,185.3l4.3,-2.4v4.8zM115.5,183.5l4.3,-2.4v4.8zM115.7,181.8l4.3,-2.4v4.8zM115.9,180.0l4.3,-2.4v4.8zM116.1,178.3l4.3,-2.4v4.8zM116.3,176.6l4.3,-2.4v4.8zM116.5,174.9l4.3,-2.4v4.8zM116.6,173.2l4.3,-2.4v4.8zM116.8,171.6l4.3,-2.4v4.8zM117.0,169.9l4.3,-2.4v4.8zM117.2,168.3l4.3,-2.4v4.8zM117.4,166.7l4.3,-2.4v4.8zM117.6,165.1l4.3,-2.4v4.8zM117.8,163.5l4.3,-2.4v4.8zM117.9,161.9l4.3,-2.4v4.8zM118.1,160.4l4.3,-2.4v4.8zM118.3,158.8l4.3,-2.4v4.8zM118.5,157.3l4.3,-2.4v4.8zM118.7,155.8l4.3,-2.4v4.8zM118.9,154.3l4.3,-2.4v4.8zM119.0,152.9l4.3,-2.4v4.8zM119.2,151.4l4.3,-2.4v4.8zM119.4,150.0l4.3,-2.4v4.8zM119.6,148.6l4.3,-2.4v4.8zM119.8,147.2l4.3,-2.4v4.8zM120.0,145.8l4.3,-2.4v4.8zM120.2,144.4l4.3,-2.4v4.8zM120.3,143.0l4.3,-2.4v4.8zM120.5,141.7l4.3,-2.4v4.8zM120.7,140.4l4.3,-2.4v4.8zM120.9,139.1l4.3,-2.4v4.8zM121.1,137.8l4.3,-2.4v4.8zM121.3,136.5l4.3,-2.4v4.8zM121.4,135.2l4.3,-2.4v4.8zM121.6,133.9l4.3,-2.4v4.8zM121.8,132.7l4.3,-2.4v4.8zM122.0,131.5l4.3,-2.4v4.8zM122.2,130.3l4.3,-2.4v4.8zM122.4,129.1l4.3,-2.4v4.8zM122.6,127.9l4.3,-2.4v4.8zM122.7,126.7l4.3,-2.4v4.8zM122.9,125.5l4.3,-2.4v4.8zM123.1,124.4l4.3,-2.4v4.8zM123.3,123.2l4.3,-2.4v4.8zM123.5,122.1l4.3,-2.4v4.8zM123.7,121.0l4.3,-2.4v4.8zM123.8,119.8l4.3,-2.4v4.8zM124.0,118.7l4.3,-2.4v4.8zM124.2,117.7l4.3,-2.4v4.8zM124.4,116.6l4.3,-2.4v4.8zM124.6,115.5l4.3,-2.4v4.8zM124.8,114.5l4.3,-2.4v4.8zM125.0,113.4l4.3,-2.4v4.8zM125.1,112.4l4.3,-2.4v4.8zM125.3,111.3l4.3,-2.4v4.8zM125.5,110.3l4.3,-2.4v4.8zM125.7,109.3l4.3,-2.4v4.8zM125.9,108.3l4.3,-2.4v4.8zM126.1,107.3l4.3,-2.4v4.8zM126.4,105.4l4.3,-2.4v4.8zM126.8,103.5l4.3,-2.4v4.8zM127.2,101.6l4.3,-2.4v4.8zM127.5,99.7l4.3,-2.4v4.8zM127.9,97.9l4.3,-2.4v4.8zM128.3,96.1l4.3,-2.4v4.8zM128.6,94.3l4.3,-2.4v4.8zM129.0,92.6l4.3,-2.4v4.8zM129.4,90.9l4.3,-2.4v4.8zM129.8,89.2l4.3,-2.4v4.8zM130.1,87.5l4.3,-2.4v4.8zM130.5,85.9l4.3,-2.4v4.8zM130.9,84.3l4.3,-2.4v4.8zM131.2,82.7l4.3,-2.4v4.8zM131.6,81.3l4.3,-2.4v4.8zM132.0,79.8l4.3,-2.4v4.8zM132.3,78.5l4.3,-2.4v4.8zM132.7,77.2l4.3,-2.4v4.8zM133.1,76.1l4.3,-2.4v4.8zM133.4,75.0l4.3,-2.4v4.8zM133.8,73.9l4.3,-2.4v4.8zM134.2,73.0l4.3,-2.4v4.8zM134.7,71.6l4.3,-2.4v4.8zM135.3,70.4l4.3,-2.4v4.8zM135.8,69.2l4.3,-2.4v4.8zM136.4,68.2l4.3,-2.4v4.8zM137.0,67.3l4.3,-2.4v4.8zM137.5,66.4l4.3,-2.4v4.8zM138.2,65.3l4.3,-2.4v4.8zM139.0,64.3l4.3,-2.4v4.8zM139.7,63.4l4.3,-2.4v4.8zM140.5,62.6l4.3,-2.4v4.8zM141.2,61.9l4.3,-2.4v4.8zM141.9,61.2l4.3,-2.4v4.8zM142.9,60.4l4.3,-2.4v4.8zM143.8,59.7l4.3,-2.4v4.8zM144.7,59.1l4.3,-2.4v4.8zM145.6,58.5l4.3,-2.4v4.8zM146.6,58.0l4.3,-2.4v4.8zM147.5,57.6l4.3,-2.4v4.8zM148.6,57.2l4.3,-2.4v4.8zM149.7,56.8l4.3,-2.4v4.8zM150.8,56.6l4.3,-2.4v4.8zM151.9,56.4l4.3,-2.4v4.8zM153.0,56.3l4.3,-2.4v4.8zM154.1,56.3l4.3,-2.4v4.8zM155.2,56.4l4.3,-2.4v4.8zM156.3,56.5l4.3,-2.4v4.8zM157.4,56.7l4.3,-2.4v4.8zM158.6,57.0l4.3,-2.4v4.8zM159.7,57.3l4.3,-2.4v4.8zM160.8,57.7l4.3,-2.4v4.8zM161.7,58.1l4.3,-2.4v4.8zM162.6,58.6l4.3,-2.4v4.8zM163.5,59.0l4.3,-2.4v4.8zM164.5,59.5l4.3,-2.4v4.8zM165.4,60.1l4.3,-2.4v4.8zM166.3,60.7l4.3,-2.4v4.8zM167.2,61.3l4.3,-2.4v4.8zM168.2,61.9l4.3,-2.4v4.8zM169.1,62.6l4.3,-2.4v4.8zM170.0,63.2l4.3,-2.4v4.8zM170.9,63.9l4.3,-2.4v4.8zM171.8,64.6l4.3,-2.4v4.8zM172.8,65.4l4.3,-2.4v4.8zM173.7,66.1l4.3,-2.4v4.8zM174.6,66.9l4.3,-2.4v4.8zM175.5,67.7l4.3,-2.4v4.8zM176.5,68.5l4.3,-2.4v4.8zM177.4,69.4l4.3,-2.4v4.8zM178.1,70.0l4.3,-2.4v4.8zM178.9,70.7l4.3,-2.4v4.8zM179.6,71.4l4.3,-2.4v4.8zM180.3,72.1l4.3,-2.4v4.8zM181.1,72.8l4.3,-2.4v4.8zM181.8,73.6l4.3,-2.4v4.8zM182.6,74.3l4.3,-2.4v4.8zM183.3,75.1l4.3,-2.4v4.8zM184.0,75.8l4.3,-2.4v4.8zM184.8,76.6l4.3,-2.4v4.8zM185.5,77.3l4.3,-2.4v4.8zM186.2,78.1l4.3,-2.4v4.8zM187.0,78.9l4.3,-2.4v4.8zM187.7,79.7l4.3,-2.4v4.8zM188.5,80.5l4.3,-2.4v4.8zM189.2,81.3l4.3,-2.4v4.8zM189.9,82.1l4.3,-2.4v4.8zM190.7,82.9l4.3,-2.4v4.8zM191.4,83.7l4.3,-2.4v4.8zM192.2,84.4l4.3,-2.4v4.8zM192.9,85.2l4.3,-2.4v4.8zM193.6,86.0l4.3,-2.4v4.8zM194.4,86.8l4.3,-2.4v4.8zM195.1,87.6l4.3,-2.4v4.8zM195.8,88.4l4.3,-2.4v4.8zM196.6,89.2l4.3,-2.4v4.8zM197.3,89.9l4.3,-2.4v4.8zM198.1,90.7l4.3,-2.4v4.8zM198.8,91.5l4.3,-2.4v4.8zM199.5,92.2l4.3,-2.4v4.8zM200.3,93.0l4.3,-2.4v4.8zM201.0,93.7l4.3,-2.4v4.8zM201.8,94.4l4.3,-2.4v4.8zM202.5,95.2l4.3,-2.4v4.8zM203.2,95.9l4.3,-2.4v4.8zM204.0,96.6l4.3,-2.4v4.8zM204.7,97.3l4.3,-2.4v4.8zM205.4,98.1l4.3,-2.4v4.8zM206.2,98.8l4.3,-2.4v4.8zM206.9,99.5l4.3,-2.4v4.8zM207.7,100.2l4.3,-2.4v4.8zM208.4,100.9l4.3,-2.4v4.8zM209.1,101.5l4.3,-2.4v4.8zM209.9,102.2l4.3,-2.4v4.8zM210.6,102.9l4.3,-2.4v4.8zM211.5,103.7l4.3,-2.4v4.8zM212.5,104.6l4.3,-2.4v4.8zM213.4,105.4l4.3,-2.4v4.8zM214.3,106.2l4.3,-2.4v4.8zM215.2,107.0l4.3,-2.4v4.8zM216.1,107.8l4.3,-2.4v4.8zM217.1,108.6l4.3,-2.4v4.8zM218.0,109.4l4.3,-2.4v4.8zM218.9,110.2l4.3,-2.4v4.8zM219.8,110.9l4.3,-2.4v4.8zM220.8,111.7l4.3,-2.4v4.8zM221.7,112.4l4.3,-2.4v4.8zM222.6,113.2l4.3,-2.4v4.8zM223.5,113.9l4.3,-2.4v4.8zM224.5,114.6l4.3,-2.4v4.8zM225.4,115.4l4.3,-2.4v4.8zM226.3,116.1l4.3,-2.4v4.8zM227.2,116.8l4.3,-2.4v4.8zM228.1,117.5l4.3,-2.4v4.8zM229.1,118.2l4.3,-2.4v4.8zM230.0,118.8l4.3,-2.4v4.8zM230.9,119.5l4.3,-2.4v4.8z" fill="#000080"/>
</g>
<g stroke="#000" stroke-width="1.9" fill="none">
<polyline points="84.9,0 84.9,475.5 675.3,475.5 675.3,0"/>
<line x1="79" y1="0.5" x2="675.3" y2="0.5" stroke-width="1.4"/>
<line x1="84.9" y1="475.5" x2="84.9" y2="485.5"/>
<line x1="121.8" y1="475.5" x2="121.8" y2="481.5"/>
<line x1="158.7" y1="475.5" x2="158.7" y2="485.5"/>
<line x1="195.7" y1="475.5" x2="195.7" y2="481.5"/>
<line x1="232.6" y1="475.5" x2="232.6" y2="485.5"/>
<line x1="269.5" y1="475.5" x2="269.5" y2="481.5"/>
<line x1="306.4" y1="475.5" x2="306.4" y2="485.5"/>
<line x1="343.3" y1="475.5" x2="343.3" y2="481.5"/>
<line x1="380.3" y1="475.5" x2="380.3" y2="485.5"/>
<line x1="417.2" y1="475.5" x2="417.2" y2="481.5"/>
<line x1="454.1" y1="475.5" x2="454.1" y2="485.5"/>
<line x1="491.0" y1="475.5" x2="491.0" y2="481.5"/>
<line x1="527.9" y1="475.5" x2="527.9" y2="485.5"/>
<line x1="564.9" y1="475.5" x2="564.9" y2="481.5"/>
<line x1="601.8" y1="475.5" x2="601.8" y2="485.5"/>
<line x1="638.7" y1="475.5" x2="638.7" y2="481.5"/>
<line x1="675.6" y1="475.5" x2="675.6" y2="485.5"/>
<line x1="74.9" y1="475.5" x2="84.9" y2="475.5"/>
<line x1="78.9" y1="422.7" x2="84.9" y2="422.7"/>
<line x1="74.9" y1="370.0" x2="84.9" y2="370.0"/>
<line x1="78.9" y1="317.2" x2="84.9" y2="317.2"/>
<line x1="74.9" y1="264.5" x2="84.9" y2="264.5"/>
<line x1="78.9" y1="211.7" x2="84.9" y2="211.7"/>
<line x1="74.9" y1="158.9" x2="84.9" y2="158.9"/>
<line x1="78.9" y1="106.2" x2="84.9" y2="106.2"/>
<line x1="74.9" y1="53.4" x2="84.9" y2="53.4"/>
<line x1="78.9" y1="0.7" x2="84.9" y2="0.7"/>
</g>
<g font-size="20" fill="#000">
<text x="84.9" y="506.5" text-anchor="middle">0</text>
<text x="158.7" y="506.5" text-anchor="middle">2</text>
<text x="232.6" y="506.5" text-anchor="middle">4</text>
<text x="306.4" y="506.5" text-anchor="middle">6</text>
<text x="380.3" y="506.5" text-anchor="middle">8</text>
<text x="454.1" y="506.5" text-anchor="middle">10</text>
<text x="527.9" y="506.5" text-anchor="middle">12</text>
<text x="601.8" y="506.5" text-anchor="middle">14</text>
<text x="675.6" y="506.5" text-anchor="middle">16</text>
<text x="68.5" y="481.0" text-anchor="end">0</text>
<text x="68.5" y="375.5" text-anchor="end">200</text>
<text x="68.5" y="270.0" text-anchor="end">400</text>
<text x="68.5" y="164.4" text-anchor="end">600</text>
<text x="68.5" y="58.9" text-anchor="end">800</text>
</g>
<rect x="486" y="17.7" width="167.5" height="178.3" fill="none" stroke="#555" stroke-width="1.1"/>
<g font-size="19.8" fill="#000" letter-spacing="0.25">
<text x="573.6" y="39.2" text-anchor="middle">Al/Soil ratio</text>
<line x1="488.5" y1="57.0" x2="534.7" y2="57.0" stroke="#000000" stroke-width="1.5"/>
<rect x="509.6" y="55.2" width="3.6" height="3.6" fill="#000000"/>
<text x="540" y="64.2">0 mmol/g</text>
<line x1="488.5" y1="81.9" x2="534.7" y2="81.9" stroke="#ff0000" stroke-width="1.5"/>
<circle cx="511.4" cy="81.9" r="1.8" fill="#ff0000"/>
<text x="540" y="89.1">0.10 mmol/g</text>
<line x1="488.5" y1="106.8" x2="534.7" y2="106.8" stroke="#0000ff" stroke-width="1.5"/>
<path d="M511.4,104.4 L513.6,108.2 L509.2,108.2 Z" fill="#0000ff"/>
<text x="540" y="114.0">0.14 mmol/g</text>
<line x1="488.5" y1="131.7" x2="534.7" y2="131.7" stroke="#ff00ff" stroke-width="1.5"/>
<path d="M511.4,134.1 L513.6,130.3 L509.2,130.3 Z" fill="#ff00ff"/>
<text x="540" y="138.9">0.18 mmol/g</text>
<line x1="488.5" y1="156.6" x2="534.7" y2="156.6" stroke="#008000" stroke-width="1.5"/>
<path d="M511.4,154.3 L513.4,156.6 L511.4,158.9 L509.4,156.6 Z" fill="#008000"/>
<text x="540" y="163.8">0.22 mmol/g</text>
<line x1="488.5" y1="181.5" x2="534.7" y2="181.5" stroke="#000080" stroke-width="1.5"/>
<path d="M509.0,181.5 L512.8,179.3 L512.8,183.7 Z" fill="#000080"/>
<text x="540" y="188.7">0.26 mmol/g</text>
</g>
<text x="380.5" y="542.9" font-size="27" text-anchor="middle">Strain (%)</text>
<text transform="translate(19.6,238.3) rotate(-90)" font-size="27" text-anchor="middle">Stress (kPa)</text>
</svg>
</body></html>
